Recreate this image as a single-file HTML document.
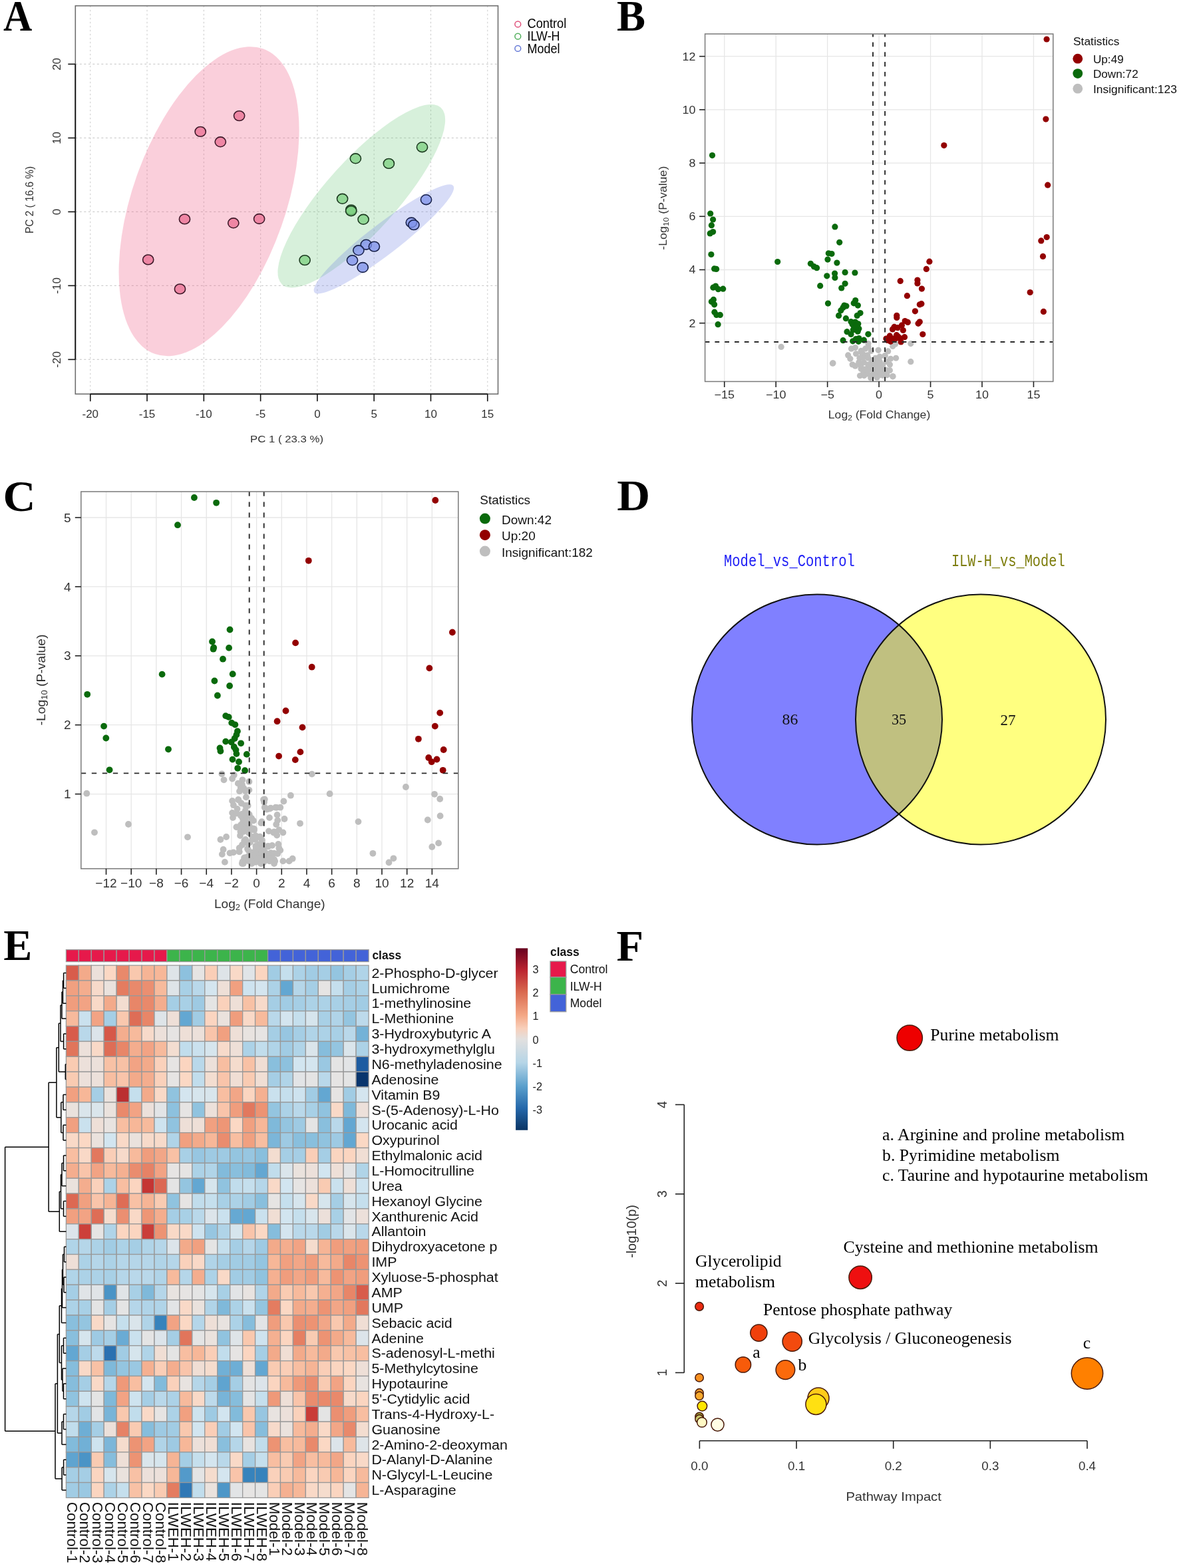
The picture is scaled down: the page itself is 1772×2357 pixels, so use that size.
<!DOCTYPE html>
<html><head><meta charset="utf-8"><title>Figure</title><style>html,body{margin:0;padding:0;background:#fff;overflow:hidden;}svg{display:block;}</style></head><body>
<svg xmlns="http://www.w3.org/2000/svg" width="1772" height="2357" viewBox="0 0 1772 2357">
<rect x="0" y="0" width="1772" height="2357" fill="#fff"/>
<text transform="translate(5,46) scale(0.93,1)" x="0" y="0" font-size="64.5" font-family="'Liberation Serif', 'Times New Roman', serif" font-weight="bold" fill="#000">A</text>
<line x1="135.76" y1="8.7" x2="135.76" y2="592.3" stroke="#cfcfcf" stroke-width="1.1" stroke-dasharray="2.5 3.5"/>
<line x1="221.04" y1="8.7" x2="221.04" y2="592.3" stroke="#cfcfcf" stroke-width="1.1" stroke-dasharray="2.5 3.5"/>
<line x1="306.33" y1="8.7" x2="306.33" y2="592.3" stroke="#cfcfcf" stroke-width="1.1" stroke-dasharray="2.5 3.5"/>
<line x1="391.62" y1="8.7" x2="391.62" y2="592.3" stroke="#cfcfcf" stroke-width="1.1" stroke-dasharray="2.5 3.5"/>
<line x1="476.9" y1="8.7" x2="476.9" y2="592.3" stroke="#cfcfcf" stroke-width="1.1" stroke-dasharray="2.5 3.5"/>
<line x1="562.18" y1="8.7" x2="562.18" y2="592.3" stroke="#cfcfcf" stroke-width="1.1" stroke-dasharray="2.5 3.5"/>
<line x1="647.47" y1="8.7" x2="647.47" y2="592.3" stroke="#cfcfcf" stroke-width="1.1" stroke-dasharray="2.5 3.5"/>
<line x1="732.75" y1="8.7" x2="732.75" y2="592.3" stroke="#cfcfcf" stroke-width="1.1" stroke-dasharray="2.5 3.5"/>
<line x1="113.3" y1="540.4" x2="748.5" y2="540.4" stroke="#cfcfcf" stroke-width="1.1" stroke-dasharray="3 3.5"/>
<line x1="113.3" y1="429.4" x2="748.5" y2="429.4" stroke="#cfcfcf" stroke-width="1.1" stroke-dasharray="3 3.5"/>
<line x1="113.3" y1="318.4" x2="748.5" y2="318.4" stroke="#cfcfcf" stroke-width="1.1" stroke-dasharray="3 3.5"/>
<line x1="113.3" y1="207.4" x2="748.5" y2="207.4" stroke="#cfcfcf" stroke-width="1.1" stroke-dasharray="3 3.5"/>
<line x1="113.3" y1="96.4" x2="748.5" y2="96.4" stroke="#cfcfcf" stroke-width="1.1" stroke-dasharray="3 3.5"/>
<g>
<ellipse cx="314.1" cy="302.7" rx="243.3" ry="115.1" transform="rotate(-70.5 314.1 302.7)" fill="rgb(238,95,135)" fill-opacity="0.30"/>
<ellipse cx="543.3" cy="294.7" rx="178.6" ry="53.9" transform="rotate(-48.1 543.3 294.7)" fill="rgb(110,200,125)" fill-opacity="0.28"/>
<ellipse cx="576.9" cy="359.4" rx="131.5" ry="23.0" transform="rotate(-37.5 576.9 359.4)" fill="rgb(110,130,225)" fill-opacity="0.28"/>
</g>
<ellipse cx="301.2" cy="197.9" rx="8.1" ry="7.4" fill="#ea6e92" fill-opacity="0.75" stroke="#3d1828" stroke-width="1.6"/>
<ellipse cx="331.3" cy="213.3" rx="8.1" ry="7.4" fill="#ea6e92" fill-opacity="0.75" stroke="#3d1828" stroke-width="1.6"/>
<ellipse cx="359.6" cy="174.1" rx="8.1" ry="7.4" fill="#ea6e92" fill-opacity="0.75" stroke="#3d1828" stroke-width="1.6"/>
<ellipse cx="277.5" cy="329.4" rx="8.1" ry="7.4" fill="#ea6e92" fill-opacity="0.75" stroke="#3d1828" stroke-width="1.6"/>
<ellipse cx="350.8" cy="335.3" rx="8.1" ry="7.4" fill="#ea6e92" fill-opacity="0.75" stroke="#3d1828" stroke-width="1.6"/>
<ellipse cx="389.6" cy="329" rx="8.1" ry="7.4" fill="#ea6e92" fill-opacity="0.75" stroke="#3d1828" stroke-width="1.6"/>
<ellipse cx="222.7" cy="390.4" rx="8.1" ry="7.4" fill="#ea6e92" fill-opacity="0.75" stroke="#3d1828" stroke-width="1.6"/>
<ellipse cx="270.5" cy="434.4" rx="8.1" ry="7.4" fill="#ea6e92" fill-opacity="0.75" stroke="#3d1828" stroke-width="1.6"/>
<ellipse cx="534.4" cy="238.3" rx="8.1" ry="7.4" fill="#7bd07f" fill-opacity="0.75" stroke="#1c3a20" stroke-width="1.6"/>
<ellipse cx="584.4" cy="245.9" rx="8.1" ry="7.4" fill="#7bd07f" fill-opacity="0.75" stroke="#1c3a20" stroke-width="1.6"/>
<ellipse cx="634.5" cy="221.2" rx="8.1" ry="7.4" fill="#7bd07f" fill-opacity="0.75" stroke="#1c3a20" stroke-width="1.6"/>
<ellipse cx="514.6" cy="298.8" rx="8.1" ry="7.4" fill="#7bd07f" fill-opacity="0.75" stroke="#1c3a20" stroke-width="1.6"/>
<ellipse cx="527.7" cy="315.4" rx="8.1" ry="7.4" fill="#7bd07f" fill-opacity="0.75" stroke="#1c3a20" stroke-width="1.6"/>
<ellipse cx="527.7" cy="317.2" rx="8.1" ry="7.4" fill="#7bd07f" fill-opacity="0.75" stroke="#1c3a20" stroke-width="1.6"/>
<ellipse cx="546.1" cy="329.8" rx="8.1" ry="7.4" fill="#7bd07f" fill-opacity="0.75" stroke="#1c3a20" stroke-width="1.6"/>
<ellipse cx="458.1" cy="391.1" rx="8.1" ry="7.4" fill="#7bd07f" fill-opacity="0.75" stroke="#1c3a20" stroke-width="1.6"/>
<ellipse cx="640.5" cy="300.2" rx="8.1" ry="7.4" fill="#7d92e9" fill-opacity="0.75" stroke="#18214a" stroke-width="1.6"/>
<ellipse cx="618.3" cy="334.5" rx="8.1" ry="7.4" fill="#7d92e9" fill-opacity="0.75" stroke="#18214a" stroke-width="1.6"/>
<ellipse cx="621.9" cy="338.1" rx="8.1" ry="7.4" fill="#7d92e9" fill-opacity="0.75" stroke="#18214a" stroke-width="1.6"/>
<ellipse cx="550.3" cy="367.7" rx="8.1" ry="7.4" fill="#7d92e9" fill-opacity="0.75" stroke="#18214a" stroke-width="1.6"/>
<ellipse cx="562.4" cy="370.6" rx="8.1" ry="7.4" fill="#7d92e9" fill-opacity="0.75" stroke="#18214a" stroke-width="1.6"/>
<ellipse cx="538.9" cy="376.3" rx="8.1" ry="7.4" fill="#7d92e9" fill-opacity="0.75" stroke="#18214a" stroke-width="1.6"/>
<ellipse cx="529.5" cy="391.3" rx="8.1" ry="7.4" fill="#7d92e9" fill-opacity="0.75" stroke="#18214a" stroke-width="1.6"/>
<ellipse cx="545.2" cy="402" rx="8.1" ry="7.4" fill="#7d92e9" fill-opacity="0.75" stroke="#18214a" stroke-width="1.6"/>
<rect x="113.3" y="8.7" width="635.2" height="583.6" fill="none" stroke="#6e6e6e" stroke-width="1.6"/>
<line x1="113.3" y1="96.4" x2="113.3" y2="540.4" stroke="#111" stroke-width="1.8"/>
<line x1="135.76" y1="592.3" x2="732.75" y2="592.3" stroke="#111" stroke-width="1.8"/>
<line x1="135.76" y1="592.3" x2="135.76" y2="603.3" stroke="#111" stroke-width="1.6"/>
<text x="135.76" y="627.8" font-size="17" font-family="'Liberation Sans', Arial, sans-serif" fill="#333" text-anchor="middle">-20</text>
<line x1="221.04" y1="592.3" x2="221.04" y2="603.3" stroke="#111" stroke-width="1.6"/>
<text x="221.04" y="627.8" font-size="17" font-family="'Liberation Sans', Arial, sans-serif" fill="#333" text-anchor="middle">-15</text>
<line x1="306.33" y1="592.3" x2="306.33" y2="603.3" stroke="#111" stroke-width="1.6"/>
<text x="306.33" y="627.8" font-size="17" font-family="'Liberation Sans', Arial, sans-serif" fill="#333" text-anchor="middle">-10</text>
<line x1="391.62" y1="592.3" x2="391.62" y2="603.3" stroke="#111" stroke-width="1.6"/>
<text x="391.62" y="627.8" font-size="17" font-family="'Liberation Sans', Arial, sans-serif" fill="#333" text-anchor="middle">-5</text>
<line x1="476.9" y1="592.3" x2="476.9" y2="603.3" stroke="#111" stroke-width="1.6"/>
<text x="476.9" y="627.8" font-size="17" font-family="'Liberation Sans', Arial, sans-serif" fill="#333" text-anchor="middle">0</text>
<line x1="562.18" y1="592.3" x2="562.18" y2="603.3" stroke="#111" stroke-width="1.6"/>
<text x="562.18" y="627.8" font-size="17" font-family="'Liberation Sans', Arial, sans-serif" fill="#333" text-anchor="middle">5</text>
<line x1="647.47" y1="592.3" x2="647.47" y2="603.3" stroke="#111" stroke-width="1.6"/>
<text x="647.47" y="627.8" font-size="17" font-family="'Liberation Sans', Arial, sans-serif" fill="#333" text-anchor="middle">10</text>
<line x1="732.75" y1="592.3" x2="732.75" y2="603.3" stroke="#111" stroke-width="1.6"/>
<text x="732.75" y="627.8" font-size="17" font-family="'Liberation Sans', Arial, sans-serif" fill="#333" text-anchor="middle">15</text>
<line x1="102.3" y1="540.4" x2="113.3" y2="540.4" stroke="#111" stroke-width="1.6"/>
<text transform="translate(91.2,540.4) rotate(-90)" x="0" y="0" font-size="17" font-family="'Liberation Sans', Arial, sans-serif" fill="#333" text-anchor="middle">-20</text>
<line x1="102.3" y1="429.4" x2="113.3" y2="429.4" stroke="#111" stroke-width="1.6"/>
<text transform="translate(91.2,429.4) rotate(-90)" x="0" y="0" font-size="17" font-family="'Liberation Sans', Arial, sans-serif" fill="#333" text-anchor="middle">-10</text>
<line x1="102.3" y1="318.4" x2="113.3" y2="318.4" stroke="#111" stroke-width="1.6"/>
<text transform="translate(91.2,318.4) rotate(-90)" x="0" y="0" font-size="17" font-family="'Liberation Sans', Arial, sans-serif" fill="#333" text-anchor="middle">0</text>
<line x1="102.3" y1="207.4" x2="113.3" y2="207.4" stroke="#111" stroke-width="1.6"/>
<text transform="translate(91.2,207.4) rotate(-90)" x="0" y="0" font-size="17" font-family="'Liberation Sans', Arial, sans-serif" fill="#333" text-anchor="middle">10</text>
<line x1="102.3" y1="96.4" x2="113.3" y2="96.4" stroke="#111" stroke-width="1.6"/>
<text transform="translate(91.2,96.4) rotate(-90)" x="0" y="0" font-size="17" font-family="'Liberation Sans', Arial, sans-serif" fill="#333" text-anchor="middle">20</text>
<text x="431" y="664.5" font-size="15.5" font-family="'Liberation Sans', Arial, sans-serif" fill="#333" text-anchor="middle" textLength="110" lengthAdjust="spacingAndGlyphs">PC 1 ( 23.3 %)</text>
<text transform="translate(49.6,300.4) rotate(-90)" x="0" y="0" font-size="15.8" font-family="'Liberation Sans', Arial, sans-serif" fill="#333" text-anchor="middle" textLength="101.3" lengthAdjust="spacingAndGlyphs">PC 2 ( 16.6 %)</text>
<circle cx="778.3" cy="36.4" r="4.4" fill="none" stroke="#e0507a" stroke-width="1.5"/>
<circle cx="778.3" cy="54.7" r="4.4" fill="none" stroke="#4fae5a" stroke-width="1.5"/>
<circle cx="778.3" cy="72.9" r="4.4" fill="none" stroke="#6478d6" stroke-width="1.5"/>
<text x="792.5" y="41.6" font-size="19.5" font-family="'Liberation Sans', Arial, sans-serif" fill="#000" textLength="58.7" lengthAdjust="spacingAndGlyphs">Control</text>
<text x="792.5" y="60.6" font-size="19.5" font-family="'Liberation Sans', Arial, sans-serif" fill="#000" textLength="49" lengthAdjust="spacingAndGlyphs">ILW-H</text>
<text x="792.5" y="80.2" font-size="19.5" font-family="'Liberation Sans', Arial, sans-serif" fill="#000" textLength="49" lengthAdjust="spacingAndGlyphs">Model</text>
<text transform="translate(927.3,766.9) scale(1.07,1)" x="0" y="0" font-size="64.5" font-family="'Liberation Serif', 'Times New Roman', serif" font-weight="bold" fill="#000">D</text>
<defs><clipPath id="cpL"><circle cx="1228" cy="1081.5" r="188"/></clipPath></defs>
<circle cx="1228" cy="1081.5" r="188" fill="#8080ff"/>
<circle cx="1474" cy="1081.5" r="188" fill="#ffff80"/>
<circle cx="1474" cy="1081.5" r="188" fill="#c0c080" clip-path="url(#cpL)"/>
<circle cx="1228" cy="1081.5" r="188" fill="none" stroke="#111" stroke-width="2"/>
<circle cx="1474" cy="1081.5" r="188" fill="none" stroke="#111" stroke-width="2"/>
<text transform="translate(1088,850.7) scale(1,1.245)" x="0" y="0" font-size="20.5" font-family="'Liberation Mono', monospace" fill="#1c1cf5" textLength="196.8" lengthAdjust="spacingAndGlyphs">Model_vs_Control</text>
<text transform="translate(1429.9,850.7) scale(1,1.245)" x="0" y="0" font-size="20.5" font-family="'Liberation Mono', monospace" fill="#7d7d0c" textLength="170.7" lengthAdjust="spacingAndGlyphs">ILW-H_vs_Model</text>
<text x="1175.6" y="1089" font-size="24" font-family="'Liberation Serif', 'Times New Roman', serif" fill="#111" textLength="23.8" lengthAdjust="spacingAndGlyphs">86</text>
<text x="1339.9" y="1089.3" font-size="24" font-family="'Liberation Serif', 'Times New Roman', serif" fill="#111" textLength="22.2" lengthAdjust="spacingAndGlyphs">35</text>
<text x="1503.4" y="1089.5" font-size="24" font-family="'Liberation Serif', 'Times New Roman', serif" fill="#111" textLength="23" lengthAdjust="spacingAndGlyphs">27</text>
<text transform="translate(927,45.5) scale(1.0,1)" x="0" y="0" font-size="64.5" font-family="'Liberation Serif', 'Times New Roman', serif" font-weight="bold" fill="#000">B</text>
<line x1="1088.75" y1="51" x2="1088.75" y2="573.5" stroke="#e6e6e6" stroke-width="1.3"/>
<line x1="1166.2" y1="51" x2="1166.2" y2="573.5" stroke="#e6e6e6" stroke-width="1.3"/>
<line x1="1243.65" y1="51" x2="1243.65" y2="573.5" stroke="#e6e6e6" stroke-width="1.3"/>
<line x1="1321.1" y1="51" x2="1321.1" y2="573.5" stroke="#e6e6e6" stroke-width="1.3"/>
<line x1="1398.55" y1="51" x2="1398.55" y2="573.5" stroke="#e6e6e6" stroke-width="1.3"/>
<line x1="1476" y1="51" x2="1476" y2="573.5" stroke="#e6e6e6" stroke-width="1.3"/>
<line x1="1553.45" y1="51" x2="1553.45" y2="573.5" stroke="#e6e6e6" stroke-width="1.3"/>
<line x1="1059.6" y1="485.7" x2="1582.8" y2="485.7" stroke="#e6e6e6" stroke-width="1.3"/>
<line x1="1059.6" y1="405.5" x2="1582.8" y2="405.5" stroke="#e6e6e6" stroke-width="1.3"/>
<line x1="1059.6" y1="325.3" x2="1582.8" y2="325.3" stroke="#e6e6e6" stroke-width="1.3"/>
<line x1="1059.6" y1="245.1" x2="1582.8" y2="245.1" stroke="#e6e6e6" stroke-width="1.3"/>
<line x1="1059.6" y1="164.9" x2="1582.8" y2="164.9" stroke="#e6e6e6" stroke-width="1.3"/>
<line x1="1059.6" y1="84.7" x2="1582.8" y2="84.7" stroke="#e6e6e6" stroke-width="1.3"/>
<g fill="#bebebe">
<circle cx="1304.94" cy="516.59" r="4.6"/>
<circle cx="1279.51" cy="524.17" r="4.6"/>
<circle cx="1285.46" cy="522.54" r="4.6"/>
<circle cx="1320.1" cy="526.33" r="4.6"/>
<circle cx="1334.71" cy="527.95" r="4.6"/>
<circle cx="1341.74" cy="520.38" r="4.6"/>
<circle cx="1345.53" cy="517.13" r="4.6"/>
<circle cx="1368.8" cy="516.59" r="4.6"/>
<circle cx="1274.64" cy="533.91" r="4.6"/>
<circle cx="1346.61" cy="538.24" r="4.6"/>
<circle cx="1368.8" cy="543.65" r="4.6"/>
<circle cx="1251.91" cy="545.81" r="4.6"/>
<circle cx="1292.49" cy="564.75" r="4.6"/>
<circle cx="1341.74" cy="565.84" r="4.6"/>
<circle cx="1281.13" cy="547.98" r="4.6"/>
<circle cx="1285.46" cy="550.14" r="4.6"/>
<circle cx="1294.12" cy="554.47" r="4.6"/>
<circle cx="1300.61" cy="559.88" r="4.6"/>
<circle cx="1310.35" cy="565.3" r="4.6"/>
<circle cx="1317.93" cy="567.46" r="4.6"/>
<circle cx="1326.59" cy="564.21" r="4.6"/>
<circle cx="1333.08" cy="563.67" r="4.6"/>
<circle cx="1337.41" cy="556.64" r="4.6"/>
<circle cx="1337.41" cy="547.98" r="4.6"/>
<circle cx="1338.5" cy="539.32" r="4.6"/>
<circle cx="1329.84" cy="534.99" r="4.6"/>
<circle cx="1322.26" cy="536.07" r="4.6"/>
<circle cx="1315.77" cy="538.24" r="4.6"/>
<circle cx="1310.35" cy="543.65" r="4.6"/>
<circle cx="1304.94" cy="549.06" r="4.6"/>
<circle cx="1298.45" cy="544.73" r="4.6"/>
<circle cx="1291.95" cy="538.24" r="4.6"/>
<circle cx="1286.54" cy="531.74" r="4.6"/>
<circle cx="1294.12" cy="527.41" r="4.6"/>
<circle cx="1300.61" cy="524.17" r="4.6"/>
<circle cx="1304.94" cy="520.92" r="4.6"/>
<circle cx="1309.27" cy="527.41" r="4.6"/>
<circle cx="1303.86" cy="533.91" r="4.6"/>
<circle cx="1297.37" cy="532.82" r="4.6"/>
<circle cx="1315.77" cy="549.06" r="4.6"/>
<circle cx="1322.26" cy="543.65" r="4.6"/>
<circle cx="1326.59" cy="549.06" r="4.6"/>
<circle cx="1324.42" cy="557.72" r="4.6"/>
<circle cx="1315.77" cy="557.72" r="4.6"/>
<circle cx="1309.27" cy="554.47" r="4.6"/>
<circle cx="1332" cy="543.65" r="4.6"/>
<circle cx="1304.94" cy="538.24" r="4.6"/>
<circle cx="1277.88" cy="539.32" r="4.6"/>
<circle cx="1290.87" cy="544.73" r="4.6"/>
<circle cx="1174.1" cy="521.4" r="4.6"/>
<circle cx="1251.5" cy="546.2" r="4.6"/>
<circle cx="1342" cy="565.8" r="4.6"/>
<circle cx="1313.19" cy="557.6" r="4.6"/>
<circle cx="1313.51" cy="550.16" r="4.6"/>
<circle cx="1305.77" cy="551.08" r="4.6"/>
<circle cx="1328.23" cy="556.82" r="4.6"/>
<circle cx="1327.41" cy="555.24" r="4.6"/>
<circle cx="1320.34" cy="554.67" r="4.6"/>
<circle cx="1297.67" cy="560.7" r="4.6"/>
<circle cx="1321.57" cy="557.49" r="4.6"/>
<circle cx="1297.39" cy="537.31" r="4.6"/>
<circle cx="1306.21" cy="548.79" r="4.6"/>
<circle cx="1319.36" cy="552.59" r="4.6"/>
<circle cx="1321.73" cy="547.22" r="4.6"/>
<circle cx="1319.4" cy="556.55" r="4.6"/>
<circle cx="1308.73" cy="568" r="4.6"/>
<circle cx="1322.12" cy="563.77" r="4.6"/>
<circle cx="1309.18" cy="546.34" r="4.6"/>
<circle cx="1312.22" cy="552.04" r="4.6"/>
<circle cx="1322.95" cy="555.24" r="4.6"/>
<circle cx="1311.08" cy="544.39" r="4.6"/>
<circle cx="1310.27" cy="563.99" r="4.6"/>
<circle cx="1307.11" cy="555.2" r="4.6"/>
<circle cx="1320.69" cy="539.59" r="4.6"/>
<circle cx="1316.53" cy="564.76" r="4.6"/>
<circle cx="1293.84" cy="550.11" r="4.6"/>
<circle cx="1314.83" cy="545.64" r="4.6"/>
<circle cx="1321.47" cy="552.44" r="4.6"/>
<circle cx="1299.89" cy="560.45" r="4.6"/>
<circle cx="1323.36" cy="561.51" r="4.6"/>
<circle cx="1331.85" cy="556.26" r="4.6"/>
<circle cx="1317.31" cy="541.31" r="4.6"/>
<circle cx="1322.77" cy="547.49" r="4.6"/>
<circle cx="1311.02" cy="541.62" r="4.6"/>
<circle cx="1305.36" cy="548.22" r="4.6"/>
<circle cx="1330.18" cy="534.71" r="4.6"/>
<circle cx="1299.97" cy="555.15" r="4.6"/>
<circle cx="1331.88" cy="558.21" r="4.6"/>
<circle cx="1295.1" cy="530.34" r="4.6"/>
<circle cx="1319.93" cy="546.37" r="4.6"/>
<circle cx="1303.68" cy="561.8" r="4.6"/>
<circle cx="1328.12" cy="554.42" r="4.6"/>
<circle cx="1318.7" cy="556.91" r="4.6"/>
<circle cx="1333.53" cy="558.57" r="4.6"/>
<circle cx="1321.71" cy="557.93" r="4.6"/>
<circle cx="1298.75" cy="564.54" r="4.6"/>
<circle cx="1326.51" cy="557.77" r="4.6"/>
</g>
<g fill="#0a6a0c">
<circle cx="1070.5" cy="233.6" r="4.6"/>
<circle cx="1067.7" cy="321" r="4.6"/>
<circle cx="1071.6" cy="330" r="4.6"/>
<circle cx="1069.4" cy="338.7" r="4.6"/>
<circle cx="1071.6" cy="348.5" r="4.6"/>
<circle cx="1067.2" cy="350.9" r="4.6"/>
<circle cx="1068.9" cy="382.5" r="4.6"/>
<circle cx="1073.6" cy="403.9" r="4.6"/>
<circle cx="1076.6" cy="404.4" r="4.6"/>
<circle cx="1168.7" cy="393.5" r="4.6"/>
<circle cx="1218.4" cy="396.3" r="4.6"/>
<circle cx="1223.4" cy="400.7" r="4.6"/>
<circle cx="1227.6" cy="402.7" r="4.6"/>
<circle cx="1245.3" cy="380.8" r="4.6"/>
<circle cx="1250" cy="381.5" r="4.6"/>
<circle cx="1244" cy="390.1" r="4.6"/>
<circle cx="1257.9" cy="395.1" r="4.6"/>
<circle cx="1254.9" cy="340.9" r="4.6"/>
<circle cx="1261.7" cy="364.3" r="4.6"/>
<circle cx="1254.6" cy="411.1" r="4.6"/>
<circle cx="1254.9" cy="417.4" r="4.6"/>
<circle cx="1242.8" cy="414.8" r="4.6"/>
<circle cx="1270.1" cy="409.4" r="4.6"/>
<circle cx="1284.9" cy="410" r="4.6"/>
<circle cx="1232.7" cy="429.7" r="4.6"/>
<circle cx="1270.1" cy="426.3" r="4.6"/>
<circle cx="1264.7" cy="433" r="4.6"/>
<circle cx="1071.9" cy="432.2" r="4.6"/>
<circle cx="1075.6" cy="430" r="4.6"/>
<circle cx="1079.5" cy="434.7" r="4.6"/>
<circle cx="1086.7" cy="434.2" r="4.6"/>
<circle cx="1072.4" cy="450.4" r="4.6"/>
<circle cx="1069.4" cy="453.6" r="4.6"/>
<circle cx="1073.6" cy="457.8" r="4.6"/>
<circle cx="1073.9" cy="469.2" r="4.6"/>
<circle cx="1076.9" cy="473.4" r="4.6"/>
<circle cx="1082.3" cy="473.4" r="4.6"/>
<circle cx="1079.1" cy="487.7" r="4.6"/>
<circle cx="1244.5" cy="456.1" r="4.6"/>
<circle cx="1285.7" cy="451.5" r="4.6"/>
<circle cx="1283.2" cy="455.8" r="4.6"/>
<circle cx="1289.4" cy="459.1" r="4.6"/>
<circle cx="1268.9" cy="459.1" r="4.6"/>
<circle cx="1271.9" cy="460" r="4.6"/>
<circle cx="1263.8" cy="466.7" r="4.6"/>
<circle cx="1267" cy="462.5" r="4.6"/>
<circle cx="1260.6" cy="474.4" r="4.6"/>
<circle cx="1293" cy="470.6" r="4.6"/>
<circle cx="1288.2" cy="474.4" r="4.6"/>
<circle cx="1271.4" cy="478.7" r="4.6"/>
<circle cx="1279" cy="483.6" r="4.6"/>
<circle cx="1285.5" cy="484.1" r="4.6"/>
<circle cx="1289.8" cy="486.8" r="4.6"/>
<circle cx="1283.3" cy="490.6" r="4.6"/>
<circle cx="1290.9" cy="493.9" r="4.6"/>
<circle cx="1289.2" cy="498.2" r="4.6"/>
<circle cx="1282.2" cy="496" r="4.6"/>
<circle cx="1281.1" cy="487.4" r="4.6"/>
<circle cx="1286.5" cy="490.6" r="4.6"/>
<circle cx="1273" cy="498.7" r="4.6"/>
<circle cx="1279" cy="502.5" r="4.6"/>
<circle cx="1304.9" cy="502.3" r="4.6"/>
<circle cx="1267.1" cy="511.7" r="4.6"/>
<circle cx="1281.7" cy="512.8" r="4.6"/>
<circle cx="1286.5" cy="509.6" r="4.6"/>
<circle cx="1290.9" cy="508.5" r="4.6"/>
<circle cx="1290.3" cy="513.3" r="4.6"/>
<circle cx="1298.4" cy="511.2" r="4.6"/>
</g>
<g fill="#930000">
<circle cx="1573.1" cy="59" r="4.6"/>
<circle cx="1571.9" cy="179.1" r="4.6"/>
<circle cx="1418.8" cy="218.6" r="4.6"/>
<circle cx="1574.7" cy="278.2" r="4.6"/>
<circle cx="1573.2" cy="356.5" r="4.6"/>
<circle cx="1564.8" cy="361.9" r="4.6"/>
<circle cx="1567.5" cy="385.4" r="4.6"/>
<circle cx="1548.2" cy="439.5" r="4.6"/>
<circle cx="1568.4" cy="468.4" r="4.6"/>
<circle cx="1396.9" cy="393.2" r="4.6"/>
<circle cx="1392.3" cy="404.4" r="4.6"/>
<circle cx="1353.2" cy="422.4" r="4.6"/>
<circle cx="1378.9" cy="421.1" r="4.6"/>
<circle cx="1378.9" cy="425.9" r="4.6"/>
<circle cx="1385.4" cy="434.1" r="4.6"/>
<circle cx="1363.4" cy="444.7" r="4.6"/>
<circle cx="1382.3" cy="457.8" r="4.6"/>
<circle cx="1384.9" cy="456.7" r="4.6"/>
<circle cx="1375.4" cy="467.8" r="4.6"/>
<circle cx="1347.8" cy="474.3" r="4.6"/>
<circle cx="1347.8" cy="477.5" r="4.6"/>
<circle cx="1360.2" cy="482.5" r="4.6"/>
<circle cx="1364.3" cy="484.4" r="4.6"/>
<circle cx="1380.1" cy="486.3" r="4.6"/>
<circle cx="1382.3" cy="483.8" r="4.6"/>
<circle cx="1344.1" cy="491.4" r="4.6"/>
<circle cx="1341.5" cy="494.9" r="4.6"/>
<circle cx="1349.1" cy="492.7" r="4.6"/>
<circle cx="1355.4" cy="488.9" r="4.6"/>
<circle cx="1357.3" cy="496.5" r="4.6"/>
<circle cx="1386.8" cy="502.5" r="4.6"/>
<circle cx="1331.9" cy="509.1" r="4.6"/>
<circle cx="1337.3" cy="504.9" r="4.6"/>
<circle cx="1338.5" cy="513.3" r="4.6"/>
<circle cx="1347.5" cy="503.7" r="4.6"/>
<circle cx="1349.9" cy="506.1" r="4.6"/>
<circle cx="1352.9" cy="508.5" r="4.6"/>
<circle cx="1354.1" cy="513.9" r="4.6"/>
<circle cx="1359.5" cy="506.7" r="4.6"/>
<circle cx="1346.9" cy="508.5" r="4.6"/>
<circle cx="1342.1" cy="509.1" r="4.6"/>
<circle cx="1333.7" cy="511.5" r="4.6"/>
</g>
<g stroke="#2a2a2a" stroke-width="1.9" stroke-dasharray="6.8 8">
<line x1="1312" y1="573.5" x2="1312" y2="51" stroke="#2a2a2a" stroke-width="1.9"/>
<line x1="1330.1" y1="573.5" x2="1330.1" y2="51" stroke="#2a2a2a" stroke-width="1.9"/>
<line x1="1059.6" y1="514" x2="1582.8" y2="514" stroke="#2a2a2a" stroke-width="1.9"/>
</g>
<rect x="1059.6" y="51.0" width="523.2" height="522.5" fill="none" stroke="#7a7a7a" stroke-width="1.5"/>
<line x1="1088.75" y1="573.5" x2="1088.75" y2="582" stroke="#222" stroke-width="1.6"/>
<text transform="translate(1088.75,598.8) scale(1.1,1)" x="0" y="0" font-size="16.3" font-family="'Liberation Sans', Arial, sans-serif" fill="#333" text-anchor="middle">−15</text>
<line x1="1166.2" y1="573.5" x2="1166.2" y2="582" stroke="#222" stroke-width="1.6"/>
<text transform="translate(1166.2,598.8) scale(1.1,1)" x="0" y="0" font-size="16.3" font-family="'Liberation Sans', Arial, sans-serif" fill="#333" text-anchor="middle">−10</text>
<line x1="1243.65" y1="573.5" x2="1243.65" y2="582" stroke="#222" stroke-width="1.6"/>
<text transform="translate(1243.65,598.8) scale(1.1,1)" x="0" y="0" font-size="16.3" font-family="'Liberation Sans', Arial, sans-serif" fill="#333" text-anchor="middle">−5</text>
<line x1="1321.1" y1="573.5" x2="1321.1" y2="582" stroke="#222" stroke-width="1.6"/>
<text transform="translate(1321.1,598.8) scale(1.1,1)" x="0" y="0" font-size="16.3" font-family="'Liberation Sans', Arial, sans-serif" fill="#333" text-anchor="middle">0</text>
<line x1="1398.55" y1="573.5" x2="1398.55" y2="582" stroke="#222" stroke-width="1.6"/>
<text transform="translate(1398.55,598.8) scale(1.1,1)" x="0" y="0" font-size="16.3" font-family="'Liberation Sans', Arial, sans-serif" fill="#333" text-anchor="middle">5</text>
<line x1="1476" y1="573.5" x2="1476" y2="582" stroke="#222" stroke-width="1.6"/>
<text transform="translate(1476,598.8) scale(1.1,1)" x="0" y="0" font-size="16.3" font-family="'Liberation Sans', Arial, sans-serif" fill="#333" text-anchor="middle">10</text>
<line x1="1553.45" y1="573.5" x2="1553.45" y2="582" stroke="#222" stroke-width="1.6"/>
<text transform="translate(1553.45,598.8) scale(1.1,1)" x="0" y="0" font-size="16.3" font-family="'Liberation Sans', Arial, sans-serif" fill="#333" text-anchor="middle">15</text>
<line x1="1051.1" y1="485.7" x2="1059.6" y2="485.7" stroke="#222" stroke-width="1.6"/>
<text transform="translate(1045.5,491.5) scale(1.1,1)" x="0" y="0" font-size="16.3" font-family="'Liberation Sans', Arial, sans-serif" fill="#333" text-anchor="end">2</text>
<line x1="1051.1" y1="405.5" x2="1059.6" y2="405.5" stroke="#222" stroke-width="1.6"/>
<text transform="translate(1045.5,411.3) scale(1.1,1)" x="0" y="0" font-size="16.3" font-family="'Liberation Sans', Arial, sans-serif" fill="#333" text-anchor="end">4</text>
<line x1="1051.1" y1="325.3" x2="1059.6" y2="325.3" stroke="#222" stroke-width="1.6"/>
<text transform="translate(1045.5,331.1) scale(1.1,1)" x="0" y="0" font-size="16.3" font-family="'Liberation Sans', Arial, sans-serif" fill="#333" text-anchor="end">6</text>
<line x1="1051.1" y1="245.1" x2="1059.6" y2="245.1" stroke="#222" stroke-width="1.6"/>
<text transform="translate(1045.5,250.9) scale(1.1,1)" x="0" y="0" font-size="16.3" font-family="'Liberation Sans', Arial, sans-serif" fill="#333" text-anchor="end">8</text>
<line x1="1051.1" y1="164.9" x2="1059.6" y2="164.9" stroke="#222" stroke-width="1.6"/>
<text transform="translate(1045.5,170.7) scale(1.1,1)" x="0" y="0" font-size="16.3" font-family="'Liberation Sans', Arial, sans-serif" fill="#333" text-anchor="end">10</text>
<line x1="1051.1" y1="84.7" x2="1059.6" y2="84.7" stroke="#222" stroke-width="1.6"/>
<text transform="translate(1045.5,90.5) scale(1.1,1)" x="0" y="0" font-size="16.3" font-family="'Liberation Sans', Arial, sans-serif" fill="#333" text-anchor="end">12</text>
<text x="1244.8" y="629.1" font-size="16.3" font-family="'Liberation Sans', Arial, sans-serif" fill="#333" textLength="153.5" lengthAdjust="spacingAndGlyphs">Log<tspan font-size="11" dy="3">2</tspan><tspan dy="-3"> (Fold Change)</tspan></text>
<text transform="translate(1001.6,312.7) rotate(-90)" x="0" y="0" font-size="16.3" font-family="'Liberation Sans', Arial, sans-serif" fill="#333" text-anchor="middle" textLength="126" lengthAdjust="spacingAndGlyphs">-Log<tspan font-size="11" dy="3">10</tspan><tspan dy="-3"> (P-value)</tspan></text>
<text x="1613" y="67.9" font-size="16.8" font-family="'Liberation Sans', Arial, sans-serif" fill="#111" textLength="69.5" lengthAdjust="spacingAndGlyphs">Statistics</text>
<circle cx="1619.8" cy="88.2" r="7.4" fill="#930000"/>
<circle cx="1619.8" cy="110.6" r="7.4" fill="#0a6a0c"/>
<circle cx="1619.8" cy="133.2" r="7.4" fill="#bebebe"/>
<text x="1642.9" y="94.7" font-size="17.2" font-family="'Liberation Sans', Arial, sans-serif" fill="#111">Up:49</text>
<text x="1642.9" y="117.1" font-size="17.2" font-family="'Liberation Sans', Arial, sans-serif" fill="#111">Down:72</text>
<text x="1642.9" y="139.7" font-size="17.2" font-family="'Liberation Sans', Arial, sans-serif" fill="#111" textLength="126" lengthAdjust="spacingAndGlyphs">Insignificant:123</text>
<text transform="translate(4.4,767.5) scale(1.05,1)" x="0" y="0" font-size="64.5" font-family="'Liberation Serif', 'Times New Roman', serif" font-weight="bold" fill="#000">C</text>
<line x1="159.52" y1="739" x2="159.52" y2="1305.8" stroke="#e6e6e6" stroke-width="1.3"/>
<line x1="197.2" y1="739" x2="197.2" y2="1305.8" stroke="#e6e6e6" stroke-width="1.3"/>
<line x1="234.88" y1="739" x2="234.88" y2="1305.8" stroke="#e6e6e6" stroke-width="1.3"/>
<line x1="272.56" y1="739" x2="272.56" y2="1305.8" stroke="#e6e6e6" stroke-width="1.3"/>
<line x1="310.24" y1="739" x2="310.24" y2="1305.8" stroke="#e6e6e6" stroke-width="1.3"/>
<line x1="347.92" y1="739" x2="347.92" y2="1305.8" stroke="#e6e6e6" stroke-width="1.3"/>
<line x1="385.6" y1="739" x2="385.6" y2="1305.8" stroke="#e6e6e6" stroke-width="1.3"/>
<line x1="423.28" y1="739" x2="423.28" y2="1305.8" stroke="#e6e6e6" stroke-width="1.3"/>
<line x1="460.96" y1="739" x2="460.96" y2="1305.8" stroke="#e6e6e6" stroke-width="1.3"/>
<line x1="498.64" y1="739" x2="498.64" y2="1305.8" stroke="#e6e6e6" stroke-width="1.3"/>
<line x1="536.32" y1="739" x2="536.32" y2="1305.8" stroke="#e6e6e6" stroke-width="1.3"/>
<line x1="574" y1="739" x2="574" y2="1305.8" stroke="#e6e6e6" stroke-width="1.3"/>
<line x1="611.68" y1="739" x2="611.68" y2="1305.8" stroke="#e6e6e6" stroke-width="1.3"/>
<line x1="649.36" y1="739" x2="649.36" y2="1305.8" stroke="#e6e6e6" stroke-width="1.3"/>
<line x1="121.8" y1="1193.6" x2="688.8" y2="1193.6" stroke="#e6e6e6" stroke-width="1.3"/>
<line x1="121.8" y1="1089.7" x2="688.8" y2="1089.7" stroke="#e6e6e6" stroke-width="1.3"/>
<line x1="121.8" y1="985.8" x2="688.8" y2="985.8" stroke="#e6e6e6" stroke-width="1.3"/>
<line x1="121.8" y1="881.9" x2="688.8" y2="881.9" stroke="#e6e6e6" stroke-width="1.3"/>
<line x1="121.8" y1="778" x2="688.8" y2="778" stroke="#e6e6e6" stroke-width="1.3"/>
<g fill="#bebebe">
<circle cx="130.3" cy="1192.7" r="4.9"/>
<circle cx="142" cy="1251.3" r="4.9"/>
<circle cx="193" cy="1239" r="4.9"/>
<circle cx="282" cy="1258.3" r="4.9"/>
<circle cx="468.8" cy="1163.6" r="4.9"/>
<circle cx="495.6" cy="1193.2" r="4.9"/>
<circle cx="609.9" cy="1183" r="4.9"/>
<circle cx="653" cy="1193.8" r="4.9"/>
<circle cx="661.2" cy="1201" r="4.9"/>
<circle cx="661.6" cy="1226.5" r="4.9"/>
<circle cx="642.8" cy="1232.5" r="4.9"/>
<circle cx="538.5" cy="1235.1" r="4.9"/>
<circle cx="451" cy="1237.8" r="4.9"/>
<circle cx="436.9" cy="1195.7" r="4.9"/>
<circle cx="426.4" cy="1204.5" r="4.9"/>
<circle cx="560.4" cy="1282.8" r="4.9"/>
<circle cx="591.4" cy="1290.3" r="4.9"/>
<circle cx="584.5" cy="1296.5" r="4.9"/>
<circle cx="649.3" cy="1273" r="4.9"/>
<circle cx="659.1" cy="1267.4" r="4.9"/>
<circle cx="333.4" cy="1163.3" r="4.9"/>
<circle cx="336.5" cy="1172.3" r="4.9"/>
<circle cx="349.1" cy="1170.5" r="4.9"/>
<circle cx="351.8" cy="1165" r="4.9"/>
<circle cx="364.4" cy="1172.3" r="4.9"/>
<circle cx="374.4" cy="1175" r="4.9"/>
<circle cx="360" cy="1178.6" r="4.9"/>
<circle cx="361.7" cy="1184" r="4.9"/>
<circle cx="360" cy="1189.4" r="4.9"/>
<circle cx="369" cy="1189.4" r="4.9"/>
<circle cx="374.4" cy="1187.6" r="4.9"/>
<circle cx="369.9" cy="1198.4" r="4.9"/>
<circle cx="349.1" cy="1203.9" r="4.9"/>
<circle cx="350.9" cy="1210.2" r="4.9"/>
<circle cx="358.1" cy="1202" r="4.9"/>
<circle cx="362.7" cy="1207.5" r="4.9"/>
<circle cx="369" cy="1211" r="4.9"/>
<circle cx="372.6" cy="1211" r="4.9"/>
<circle cx="349.1" cy="1221.9" r="4.9"/>
<circle cx="350" cy="1229.1" r="4.9"/>
<circle cx="363.6" cy="1223.7" r="4.9"/>
<circle cx="370.8" cy="1223.7" r="4.9"/>
<circle cx="378" cy="1230" r="4.9"/>
<circle cx="396" cy="1202" r="4.9"/>
<circle cx="397" cy="1205.7" r="4.9"/>
<circle cx="397.8" cy="1213.8" r="4.9"/>
<circle cx="406.8" cy="1214.7" r="4.9"/>
<circle cx="415.9" cy="1213.8" r="4.9"/>
<circle cx="405" cy="1229.1" r="4.9"/>
<circle cx="392.4" cy="1237.2" r="4.9"/>
<circle cx="365.4" cy="1234.5" r="4.9"/>
<circle cx="369" cy="1241.7" r="4.9"/>
<circle cx="374.4" cy="1239.9" r="4.9"/>
<circle cx="379.8" cy="1245.4" r="4.9"/>
<circle cx="331.4" cy="1262" r="4.9"/>
<circle cx="340.1" cy="1258" r="4.9"/>
<circle cx="335.6" cy="1277" r="4.9"/>
<circle cx="333.8" cy="1284.1" r="4.9"/>
<circle cx="345.5" cy="1282.3" r="4.9"/>
<circle cx="350.9" cy="1281.4" r="4.9"/>
<circle cx="337.9" cy="1295.9" r="4.9"/>
<circle cx="397.8" cy="1201.4" r="4.9"/>
<circle cx="400.9" cy="1216.7" r="4.9"/>
<circle cx="405" cy="1215.7" r="4.9"/>
<circle cx="414.2" cy="1213.7" r="4.9"/>
<circle cx="421.3" cy="1213.7" r="4.9"/>
<circle cx="416.6" cy="1224.9" r="4.9"/>
<circle cx="417.2" cy="1233.1" r="4.9"/>
<circle cx="415.2" cy="1239.2" r="4.9"/>
<circle cx="427.5" cy="1231" r="4.9"/>
<circle cx="404" cy="1249.4" r="4.9"/>
<circle cx="411.1" cy="1251.5" r="4.9"/>
<circle cx="416.2" cy="1255.6" r="4.9"/>
<circle cx="419.3" cy="1247.4" r="4.9"/>
<circle cx="425.4" cy="1251.5" r="4.9"/>
<circle cx="409" cy="1270.9" r="4.9"/>
<circle cx="418.3" cy="1268.9" r="4.9"/>
<circle cx="419.3" cy="1275" r="4.9"/>
<circle cx="421.3" cy="1278.1" r="4.9"/>
<circle cx="407" cy="1282.2" r="4.9"/>
<circle cx="417.2" cy="1283.2" r="4.9"/>
<circle cx="425.4" cy="1294.4" r="4.9"/>
<circle cx="434.6" cy="1294.4" r="4.9"/>
<circle cx="439.7" cy="1290.7" r="4.9"/>
<circle cx="405" cy="1294.4" r="4.9"/>
<circle cx="413.2" cy="1294.4" r="4.9"/>
<circle cx="367.09" cy="1289.43" r="4.9"/>
<circle cx="395.93" cy="1285.63" r="4.9"/>
<circle cx="365.72" cy="1298" r="4.9"/>
<circle cx="389.21" cy="1269.25" r="4.9"/>
<circle cx="367.19" cy="1263.8" r="4.9"/>
<circle cx="392.18" cy="1286.73" r="4.9"/>
<circle cx="402.94" cy="1272.49" r="4.9"/>
<circle cx="381.68" cy="1292.32" r="4.9"/>
<circle cx="412" cy="1291.91" r="4.9"/>
<circle cx="372.8" cy="1268.13" r="4.9"/>
<circle cx="384.24" cy="1295.93" r="4.9"/>
<circle cx="378.52" cy="1298" r="4.9"/>
<circle cx="386.55" cy="1280.61" r="4.9"/>
<circle cx="397.26" cy="1294.13" r="4.9"/>
<circle cx="359.73" cy="1280.35" r="4.9"/>
<circle cx="364.54" cy="1295.2" r="4.9"/>
<circle cx="363.84" cy="1298" r="4.9"/>
<circle cx="372.88" cy="1294.01" r="4.9"/>
<circle cx="412" cy="1298" r="4.9"/>
<circle cx="393.95" cy="1262.95" r="4.9"/>
<circle cx="379.26" cy="1281.45" r="4.9"/>
<circle cx="381.8" cy="1289.63" r="4.9"/>
<circle cx="384.34" cy="1271.83" r="4.9"/>
<circle cx="390.33" cy="1277.26" r="4.9"/>
<circle cx="407.33" cy="1285.85" r="4.9"/>
<circle cx="391.92" cy="1298" r="4.9"/>
<circle cx="395.38" cy="1283.14" r="4.9"/>
<circle cx="395.99" cy="1296.53" r="4.9"/>
<circle cx="399.42" cy="1282.52" r="4.9"/>
<circle cx="384.84" cy="1278.15" r="4.9"/>
<circle cx="392.98" cy="1286.89" r="4.9"/>
<circle cx="404.34" cy="1289.44" r="4.9"/>
<circle cx="390.21" cy="1285.78" r="4.9"/>
<circle cx="386.68" cy="1294.16" r="4.9"/>
<circle cx="385.37" cy="1283.24" r="4.9"/>
<circle cx="369.81" cy="1288.9" r="4.9"/>
<circle cx="390.68" cy="1257.69" r="4.9"/>
<circle cx="395.7" cy="1270.51" r="4.9"/>
<circle cx="393.1" cy="1280.44" r="4.9"/>
<circle cx="385.38" cy="1278.4" r="4.9"/>
<circle cx="406.06" cy="1290.83" r="4.9"/>
<circle cx="373.98" cy="1245.12" r="4.9"/>
<circle cx="386.18" cy="1272.81" r="4.9"/>
<circle cx="394.36" cy="1268.2" r="4.9"/>
<circle cx="412" cy="1250.28" r="4.9"/>
<circle cx="385.3" cy="1278.93" r="4.9"/>
<circle cx="384.65" cy="1275.24" r="4.9"/>
<circle cx="381.54" cy="1289.53" r="4.9"/>
<circle cx="397.51" cy="1280.14" r="4.9"/>
<circle cx="383.77" cy="1262.07" r="4.9"/>
<circle cx="373.11" cy="1277.8" r="4.9"/>
<circle cx="397.46" cy="1291.82" r="4.9"/>
<circle cx="359.72" cy="1274.62" r="4.9"/>
<circle cx="386.08" cy="1285.22" r="4.9"/>
<circle cx="403.13" cy="1271.88" r="4.9"/>
<circle cx="383.03" cy="1281.83" r="4.9"/>
<circle cx="380.95" cy="1233.65" r="4.9"/>
<circle cx="393.48" cy="1235.26" r="4.9"/>
<circle cx="396.06" cy="1274.31" r="4.9"/>
<circle cx="377.64" cy="1293.79" r="4.9"/>
<circle cx="412" cy="1282.71" r="4.9"/>
<circle cx="384.48" cy="1256.39" r="4.9"/>
<circle cx="381.94" cy="1247.88" r="4.9"/>
<circle cx="374.09" cy="1286.71" r="4.9"/>
<circle cx="392.37" cy="1260.12" r="4.9"/>
<circle cx="391.5" cy="1291.56" r="4.9"/>
<circle cx="359.32" cy="1280.04" r="4.9"/>
<circle cx="375.06" cy="1285.06" r="4.9"/>
<circle cx="390.62" cy="1290.61" r="4.9"/>
<circle cx="393.24" cy="1297.69" r="4.9"/>
<circle cx="363.91" cy="1179.53" r="4.9"/>
<circle cx="358.53" cy="1202.66" r="4.9"/>
<circle cx="366.44" cy="1184.87" r="4.9"/>
<circle cx="362.24" cy="1241.82" r="4.9"/>
<circle cx="374.61" cy="1224.27" r="4.9"/>
<circle cx="368.82" cy="1218.83" r="4.9"/>
<circle cx="357.81" cy="1177.63" r="4.9"/>
<circle cx="355.36" cy="1243.27" r="4.9"/>
<circle cx="369.02" cy="1247.21" r="4.9"/>
<circle cx="355.43" cy="1222.71" r="4.9"/>
<circle cx="364.64" cy="1229.79" r="4.9"/>
<circle cx="361.38" cy="1249.95" r="4.9"/>
<circle cx="356.51" cy="1215.96" r="4.9"/>
<circle cx="369.74" cy="1242.51" r="4.9"/>
<circle cx="369.74" cy="1227.78" r="4.9"/>
<circle cx="370.87" cy="1243.63" r="4.9"/>
<circle cx="362.04" cy="1226.39" r="4.9"/>
<circle cx="373.02" cy="1240.33" r="4.9"/>
<circle cx="362" cy="1240" r="4.9"/>
<circle cx="368" cy="1246" r="4.9"/>
<circle cx="374" cy="1252" r="4.9"/>
<circle cx="361" cy="1256" r="4.9"/>
<circle cx="369" cy="1262" r="4.9"/>
<circle cx="376" cy="1266" r="4.9"/>
<circle cx="364" cy="1270" r="4.9"/>
<circle cx="372" cy="1276" r="4.9"/>
<circle cx="379" cy="1258" r="4.9"/>
<circle cx="382" cy="1246" r="4.9"/>
<circle cx="366" cy="1250" r="4.9"/>
<circle cx="371" cy="1236" r="4.9"/>
</g>
<g fill="#0a6a0c">
<circle cx="291.9" cy="748" r="4.9"/>
<circle cx="325.1" cy="755.8" r="4.9"/>
<circle cx="267" cy="789.2" r="4.9"/>
<circle cx="345.5" cy="946.5" r="4.9"/>
<circle cx="319" cy="964.5" r="4.9"/>
<circle cx="321.2" cy="973.5" r="4.9"/>
<circle cx="320.6" cy="975.7" r="4.9"/>
<circle cx="344.1" cy="973.9" r="4.9"/>
<circle cx="335" cy="990.7" r="4.9"/>
<circle cx="243.6" cy="1013.6" r="4.9"/>
<circle cx="349.7" cy="1013.2" r="4.9"/>
<circle cx="322.4" cy="1023.5" r="4.9"/>
<circle cx="345.1" cy="1031" r="4.9"/>
<circle cx="326.9" cy="1045.5" r="4.9"/>
<circle cx="131.2" cy="1043.8" r="4.9"/>
<circle cx="339.2" cy="1076.1" r="4.9"/>
<circle cx="343.7" cy="1077.9" r="4.9"/>
<circle cx="348.2" cy="1086.6" r="4.9"/>
<circle cx="353.3" cy="1089.3" r="4.9"/>
<circle cx="156.1" cy="1091.6" r="4.9"/>
<circle cx="356.9" cy="1099.2" r="4.9"/>
<circle cx="355.4" cy="1104.6" r="4.9"/>
<circle cx="352.7" cy="1110" r="4.9"/>
<circle cx="159.3" cy="1109.5" r="4.9"/>
<circle cx="339.2" cy="1114.6" r="4.9"/>
<circle cx="347.7" cy="1115.5" r="4.9"/>
<circle cx="362.1" cy="1117.3" r="4.9"/>
<circle cx="253" cy="1126.3" r="4.9"/>
<circle cx="330.5" cy="1124.5" r="4.9"/>
<circle cx="331.4" cy="1129" r="4.9"/>
<circle cx="351.8" cy="1122.7" r="4.9"/>
<circle cx="354.5" cy="1127.2" r="4.9"/>
<circle cx="355.4" cy="1133.1" r="4.9"/>
<circle cx="370.8" cy="1133.9" r="4.9"/>
<circle cx="349.5" cy="1141.6" r="4.9"/>
<circle cx="359" cy="1145.2" r="4.9"/>
<circle cx="357.2" cy="1154.8" r="4.9"/>
<circle cx="164.6" cy="1157.3" r="4.9"/>
<circle cx="368.1" cy="1158.2" r="4.9"/>
</g>
<g fill="#930000">
<circle cx="654.3" cy="752" r="4.9"/>
<circle cx="463.8" cy="842.8" r="4.9"/>
<circle cx="679.9" cy="950.5" r="4.9"/>
<circle cx="444.1" cy="966.4" r="4.9"/>
<circle cx="468.7" cy="1002.7" r="4.9"/>
<circle cx="645.4" cy="1004.4" r="4.9"/>
<circle cx="429.5" cy="1068.5" r="4.9"/>
<circle cx="416.6" cy="1084.2" r="4.9"/>
<circle cx="454.5" cy="1093.4" r="4.9"/>
<circle cx="661.2" cy="1071.6" r="4.9"/>
<circle cx="653.8" cy="1091.6" r="4.9"/>
<circle cx="628.9" cy="1110.8" r="4.9"/>
<circle cx="666.7" cy="1127" r="4.9"/>
<circle cx="419.1" cy="1136.6" r="4.9"/>
<circle cx="451.4" cy="1130.4" r="4.9"/>
<circle cx="443.8" cy="1142.1" r="4.9"/>
<circle cx="644.2" cy="1139" r="4.9"/>
<circle cx="648.7" cy="1145.2" r="4.9"/>
<circle cx="656.5" cy="1141.5" r="4.9"/>
<circle cx="665.7" cy="1157.8" r="4.9"/>
</g>
<g stroke="#2a2a2a" stroke-width="1.9" stroke-dasharray="7.4 8.6">
<line x1="374.7" y1="1305.8" x2="374.7" y2="739" stroke="#2a2a2a" stroke-width="1.9"/>
<line x1="396.7" y1="1305.8" x2="396.7" y2="739" stroke="#2a2a2a" stroke-width="1.9"/>
<line x1="121.8" y1="1162.4" x2="688.8" y2="1162.4" stroke="#2a2a2a" stroke-width="1.9"/>
</g>
<rect x="121.8" y="739.0" width="567" height="566.8" fill="none" stroke="#7a7a7a" stroke-width="1.5"/>
<line x1="159.52" y1="1305.8" x2="159.52" y2="1314.8" stroke="#222" stroke-width="1.6"/>
<text transform="translate(159.52,1334.2) scale(1.02,1)" x="0" y="0" font-size="18.7" font-family="'Liberation Sans', Arial, sans-serif" fill="#333" text-anchor="middle">−12</text>
<line x1="197.2" y1="1305.8" x2="197.2" y2="1314.8" stroke="#222" stroke-width="1.6"/>
<text transform="translate(197.2,1334.2) scale(1.02,1)" x="0" y="0" font-size="18.7" font-family="'Liberation Sans', Arial, sans-serif" fill="#333" text-anchor="middle">−10</text>
<line x1="234.88" y1="1305.8" x2="234.88" y2="1314.8" stroke="#222" stroke-width="1.6"/>
<text transform="translate(234.88,1334.2) scale(1.02,1)" x="0" y="0" font-size="18.7" font-family="'Liberation Sans', Arial, sans-serif" fill="#333" text-anchor="middle">−8</text>
<line x1="272.56" y1="1305.8" x2="272.56" y2="1314.8" stroke="#222" stroke-width="1.6"/>
<text transform="translate(272.56,1334.2) scale(1.02,1)" x="0" y="0" font-size="18.7" font-family="'Liberation Sans', Arial, sans-serif" fill="#333" text-anchor="middle">−6</text>
<line x1="310.24" y1="1305.8" x2="310.24" y2="1314.8" stroke="#222" stroke-width="1.6"/>
<text transform="translate(310.24,1334.2) scale(1.02,1)" x="0" y="0" font-size="18.7" font-family="'Liberation Sans', Arial, sans-serif" fill="#333" text-anchor="middle">−4</text>
<line x1="347.92" y1="1305.8" x2="347.92" y2="1314.8" stroke="#222" stroke-width="1.6"/>
<text transform="translate(347.92,1334.2) scale(1.02,1)" x="0" y="0" font-size="18.7" font-family="'Liberation Sans', Arial, sans-serif" fill="#333" text-anchor="middle">−2</text>
<line x1="385.6" y1="1305.8" x2="385.6" y2="1314.8" stroke="#222" stroke-width="1.6"/>
<text transform="translate(385.6,1334.2) scale(1.02,1)" x="0" y="0" font-size="18.7" font-family="'Liberation Sans', Arial, sans-serif" fill="#333" text-anchor="middle">0</text>
<line x1="423.28" y1="1305.8" x2="423.28" y2="1314.8" stroke="#222" stroke-width="1.6"/>
<text transform="translate(423.28,1334.2) scale(1.02,1)" x="0" y="0" font-size="18.7" font-family="'Liberation Sans', Arial, sans-serif" fill="#333" text-anchor="middle">2</text>
<line x1="460.96" y1="1305.8" x2="460.96" y2="1314.8" stroke="#222" stroke-width="1.6"/>
<text transform="translate(460.96,1334.2) scale(1.02,1)" x="0" y="0" font-size="18.7" font-family="'Liberation Sans', Arial, sans-serif" fill="#333" text-anchor="middle">4</text>
<line x1="498.64" y1="1305.8" x2="498.64" y2="1314.8" stroke="#222" stroke-width="1.6"/>
<text transform="translate(498.64,1334.2) scale(1.02,1)" x="0" y="0" font-size="18.7" font-family="'Liberation Sans', Arial, sans-serif" fill="#333" text-anchor="middle">6</text>
<line x1="536.32" y1="1305.8" x2="536.32" y2="1314.8" stroke="#222" stroke-width="1.6"/>
<text transform="translate(536.32,1334.2) scale(1.02,1)" x="0" y="0" font-size="18.7" font-family="'Liberation Sans', Arial, sans-serif" fill="#333" text-anchor="middle">8</text>
<line x1="574" y1="1305.8" x2="574" y2="1314.8" stroke="#222" stroke-width="1.6"/>
<text transform="translate(574,1334.2) scale(1.02,1)" x="0" y="0" font-size="18.7" font-family="'Liberation Sans', Arial, sans-serif" fill="#333" text-anchor="middle">10</text>
<line x1="611.68" y1="1305.8" x2="611.68" y2="1314.8" stroke="#222" stroke-width="1.6"/>
<text transform="translate(611.68,1334.2) scale(1.02,1)" x="0" y="0" font-size="18.7" font-family="'Liberation Sans', Arial, sans-serif" fill="#333" text-anchor="middle">12</text>
<line x1="649.36" y1="1305.8" x2="649.36" y2="1314.8" stroke="#222" stroke-width="1.6"/>
<text transform="translate(649.36,1334.2) scale(1.02,1)" x="0" y="0" font-size="18.7" font-family="'Liberation Sans', Arial, sans-serif" fill="#333" text-anchor="middle">14</text>
<line x1="112.8" y1="1193.6" x2="121.8" y2="1193.6" stroke="#222" stroke-width="1.6"/>
<text transform="translate(106.6,1200.2) scale(1.02,1)" x="0" y="0" font-size="18.7" font-family="'Liberation Sans', Arial, sans-serif" fill="#333" text-anchor="end">1</text>
<line x1="112.8" y1="1089.7" x2="121.8" y2="1089.7" stroke="#222" stroke-width="1.6"/>
<text transform="translate(106.6,1096.3) scale(1.02,1)" x="0" y="0" font-size="18.7" font-family="'Liberation Sans', Arial, sans-serif" fill="#333" text-anchor="end">2</text>
<line x1="112.8" y1="985.8" x2="121.8" y2="985.8" stroke="#222" stroke-width="1.6"/>
<text transform="translate(106.6,992.4) scale(1.02,1)" x="0" y="0" font-size="18.7" font-family="'Liberation Sans', Arial, sans-serif" fill="#333" text-anchor="end">3</text>
<line x1="112.8" y1="881.9" x2="121.8" y2="881.9" stroke="#222" stroke-width="1.6"/>
<text transform="translate(106.6,888.5) scale(1.02,1)" x="0" y="0" font-size="18.7" font-family="'Liberation Sans', Arial, sans-serif" fill="#333" text-anchor="end">4</text>
<line x1="112.8" y1="778" x2="121.8" y2="778" stroke="#222" stroke-width="1.6"/>
<text transform="translate(106.6,784.6) scale(1.02,1)" x="0" y="0" font-size="18.7" font-family="'Liberation Sans', Arial, sans-serif" fill="#333" text-anchor="end">5</text>
<text x="321.9" y="1365" font-size="17.8" font-family="'Liberation Sans', Arial, sans-serif" fill="#333" textLength="166.8" lengthAdjust="spacingAndGlyphs">Log<tspan font-size="12" dy="3">2</tspan><tspan dy="-3"> (Fold Change)</tspan></text>
<text transform="translate(67.8,1022) rotate(-90)" x="0" y="0" font-size="17.8" font-family="'Liberation Sans', Arial, sans-serif" fill="#333" text-anchor="middle" textLength="137" lengthAdjust="spacingAndGlyphs">-Log<tspan font-size="12" dy="3">10</tspan><tspan dy="-3"> (P-value)</tspan></text>
<text x="721.3" y="757.6" font-size="18.5" font-family="'Liberation Sans', Arial, sans-serif" fill="#111" textLength="75.8" lengthAdjust="spacingAndGlyphs">Statistics</text>
<circle cx="728.9" cy="779.6" r="8" fill="#0a6a0c"/>
<circle cx="728.9" cy="804.2" r="8" fill="#930000"/>
<circle cx="728.9" cy="828.6" r="8" fill="#bebebe"/>
<text x="754" y="787.6" font-size="19" font-family="'Liberation Sans', Arial, sans-serif" fill="#111">Down:42</text>
<text x="754" y="811.9" font-size="19" font-family="'Liberation Sans', Arial, sans-serif" fill="#111">Up:20</text>
<text x="754" y="836.8" font-size="19" font-family="'Liberation Sans', Arial, sans-serif" fill="#111" textLength="136.8" lengthAdjust="spacingAndGlyphs">Insignificant:182</text>
<text transform="translate(5.2,1443.4) scale(1.0,1)" x="0" y="0" font-size="64.5" font-family="'Liberation Serif', 'Times New Roman', serif" font-weight="bold" fill="#000">E</text>
<rect x="99.4" y="1427.6" width="18.95" height="18" fill="#e6194b" stroke="#999" stroke-width="1.3"/>
<rect x="118.35" y="1427.6" width="18.95" height="18" fill="#e6194b" stroke="#999" stroke-width="1.3"/>
<rect x="137.29" y="1427.6" width="18.95" height="18" fill="#e6194b" stroke="#999" stroke-width="1.3"/>
<rect x="156.24" y="1427.6" width="18.95" height="18" fill="#e6194b" stroke="#999" stroke-width="1.3"/>
<rect x="175.18" y="1427.6" width="18.95" height="18" fill="#e6194b" stroke="#999" stroke-width="1.3"/>
<rect x="194.13" y="1427.6" width="18.95" height="18" fill="#e6194b" stroke="#999" stroke-width="1.3"/>
<rect x="213.08" y="1427.6" width="18.95" height="18" fill="#e6194b" stroke="#999" stroke-width="1.3"/>
<rect x="232.02" y="1427.6" width="18.95" height="18" fill="#e6194b" stroke="#999" stroke-width="1.3"/>
<rect x="250.97" y="1427.6" width="18.95" height="18" fill="#3cb44b" stroke="#999" stroke-width="1.3"/>
<rect x="269.91" y="1427.6" width="18.95" height="18" fill="#3cb44b" stroke="#999" stroke-width="1.3"/>
<rect x="288.86" y="1427.6" width="18.95" height="18" fill="#3cb44b" stroke="#999" stroke-width="1.3"/>
<rect x="307.81" y="1427.6" width="18.95" height="18" fill="#3cb44b" stroke="#999" stroke-width="1.3"/>
<rect x="326.75" y="1427.6" width="18.95" height="18" fill="#3cb44b" stroke="#999" stroke-width="1.3"/>
<rect x="345.7" y="1427.6" width="18.95" height="18" fill="#3cb44b" stroke="#999" stroke-width="1.3"/>
<rect x="364.64" y="1427.6" width="18.95" height="18" fill="#3cb44b" stroke="#999" stroke-width="1.3"/>
<rect x="383.59" y="1427.6" width="18.95" height="18" fill="#3cb44b" stroke="#999" stroke-width="1.3"/>
<rect x="402.54" y="1427.6" width="18.95" height="18" fill="#4363d8" stroke="#999" stroke-width="1.3"/>
<rect x="421.48" y="1427.6" width="18.95" height="18" fill="#4363d8" stroke="#999" stroke-width="1.3"/>
<rect x="440.43" y="1427.6" width="18.95" height="18" fill="#4363d8" stroke="#999" stroke-width="1.3"/>
<rect x="459.37" y="1427.6" width="18.95" height="18" fill="#4363d8" stroke="#999" stroke-width="1.3"/>
<rect x="478.32" y="1427.6" width="18.95" height="18" fill="#4363d8" stroke="#999" stroke-width="1.3"/>
<rect x="497.27" y="1427.6" width="18.95" height="18" fill="#4363d8" stroke="#999" stroke-width="1.3"/>
<rect x="516.21" y="1427.6" width="18.95" height="18" fill="#4363d8" stroke="#999" stroke-width="1.3"/>
<rect x="535.16" y="1427.6" width="18.95" height="18" fill="#4363d8" stroke="#999" stroke-width="1.3"/>
<text x="559.4" y="1442.4" font-size="17.5" font-family="'Liberation Sans', Arial, sans-serif" fill="#111" font-weight="bold">class</text>
<g stroke="#999" stroke-width="1.3">
<rect x="99.4" y="1451.1" width="18.95" height="22.87" fill="#d85c4b"/>
<rect x="118.35" y="1451.1" width="18.95" height="22.87" fill="#f3aa8a"/>
<rect x="137.29" y="1451.1" width="18.95" height="22.87" fill="#ece0da"/>
<rect x="156.24" y="1451.1" width="18.95" height="22.87" fill="#fbd8c4"/>
<rect x="175.18" y="1451.1" width="18.95" height="22.87" fill="#e9896b"/>
<rect x="194.13" y="1451.1" width="18.95" height="22.87" fill="#f9c8ae"/>
<rect x="213.08" y="1451.1" width="18.95" height="22.87" fill="#f6b495"/>
<rect x="232.02" y="1451.1" width="18.95" height="22.87" fill="#f7b798"/>
<rect x="250.97" y="1451.1" width="18.95" height="22.87" fill="#dee4e8"/>
<rect x="269.91" y="1451.1" width="18.95" height="22.87" fill="#8dc1de"/>
<rect x="288.86" y="1451.1" width="18.95" height="22.87" fill="#e6e4e3"/>
<rect x="307.81" y="1451.1" width="18.95" height="22.87" fill="#faceb7"/>
<rect x="326.75" y="1451.1" width="18.95" height="22.87" fill="#dee4e8"/>
<rect x="345.7" y="1451.1" width="18.95" height="22.87" fill="#f9d9c7"/>
<rect x="364.64" y="1451.1" width="18.95" height="22.87" fill="#e0e4e7"/>
<rect x="383.59" y="1451.1" width="18.95" height="22.87" fill="#fbd5c0"/>
<rect x="402.54" y="1451.1" width="18.95" height="22.87" fill="#a1cce4"/>
<rect x="421.48" y="1451.1" width="18.95" height="22.87" fill="#c5dfed"/>
<rect x="440.43" y="1451.1" width="18.95" height="22.87" fill="#acd2e7"/>
<rect x="459.37" y="1451.1" width="18.95" height="22.87" fill="#a1cce4"/>
<rect x="478.32" y="1451.1" width="18.95" height="22.87" fill="#a5cee5"/>
<rect x="497.27" y="1451.1" width="18.95" height="22.87" fill="#94c5e0"/>
<rect x="516.21" y="1451.1" width="18.95" height="22.87" fill="#a5cee5"/>
<rect x="535.16" y="1451.1" width="18.95" height="22.87" fill="#b0d4e8"/>
<rect x="99.4" y="1473.97" width="18.95" height="22.87" fill="#f1a080"/>
<rect x="118.35" y="1473.97" width="18.95" height="22.87" fill="#f4ad8e"/>
<rect x="137.29" y="1473.97" width="18.95" height="22.87" fill="#f7daca"/>
<rect x="156.24" y="1473.97" width="18.95" height="22.87" fill="#eae2dd"/>
<rect x="175.18" y="1473.97" width="18.95" height="22.87" fill="#e47c60"/>
<rect x="194.13" y="1473.97" width="18.95" height="22.87" fill="#e9896b"/>
<rect x="213.08" y="1473.97" width="18.95" height="22.87" fill="#eb8f71"/>
<rect x="232.02" y="1473.97" width="18.95" height="22.87" fill="#f7ba9c"/>
<rect x="250.97" y="1473.97" width="18.95" height="22.87" fill="#dee4e8"/>
<rect x="269.91" y="1473.97" width="18.95" height="22.87" fill="#a8d0e6"/>
<rect x="288.86" y="1473.97" width="18.95" height="22.87" fill="#b9d8ea"/>
<rect x="307.81" y="1473.97" width="18.95" height="22.87" fill="#d4e5ef"/>
<rect x="326.75" y="1473.97" width="18.95" height="22.87" fill="#eedfd7"/>
<rect x="345.7" y="1473.97" width="18.95" height="22.87" fill="#f1a080"/>
<rect x="364.64" y="1473.97" width="18.95" height="22.87" fill="#cee3ef"/>
<rect x="383.59" y="1473.97" width="18.95" height="22.87" fill="#d4e5ef"/>
<rect x="402.54" y="1473.97" width="18.95" height="22.87" fill="#acd2e7"/>
<rect x="421.48" y="1473.97" width="18.95" height="22.87" fill="#63a7d2"/>
<rect x="440.43" y="1473.97" width="18.95" height="22.87" fill="#b5d6e9"/>
<rect x="459.37" y="1473.97" width="18.95" height="22.87" fill="#a5cee5"/>
<rect x="478.32" y="1473.97" width="18.95" height="22.87" fill="#e6e4e3"/>
<rect x="497.27" y="1473.97" width="18.95" height="22.87" fill="#c5dfed"/>
<rect x="516.21" y="1473.97" width="18.95" height="22.87" fill="#a5cee5"/>
<rect x="535.16" y="1473.97" width="18.95" height="22.87" fill="#acd2e7"/>
<rect x="99.4" y="1496.83" width="18.95" height="22.87" fill="#f09d7d"/>
<rect x="118.35" y="1496.83" width="18.95" height="22.87" fill="#f2a384"/>
<rect x="137.29" y="1496.83" width="18.95" height="22.87" fill="#f9d9c7"/>
<rect x="156.24" y="1496.83" width="18.95" height="22.87" fill="#f3aa8a"/>
<rect x="175.18" y="1496.83" width="18.95" height="22.87" fill="#f3ddd0"/>
<rect x="194.13" y="1496.83" width="18.95" height="22.87" fill="#e88668"/>
<rect x="213.08" y="1496.83" width="18.95" height="22.87" fill="#e9896b"/>
<rect x="232.02" y="1496.83" width="18.95" height="22.87" fill="#f4ad8e"/>
<rect x="250.97" y="1496.83" width="18.95" height="22.87" fill="#a5cee5"/>
<rect x="269.91" y="1496.83" width="18.95" height="22.87" fill="#a8d0e6"/>
<rect x="288.86" y="1496.83" width="18.95" height="22.87" fill="#9ecae3"/>
<rect x="307.81" y="1496.83" width="18.95" height="22.87" fill="#e4e4e4"/>
<rect x="326.75" y="1496.83" width="18.95" height="22.87" fill="#fad1bb"/>
<rect x="345.7" y="1496.83" width="18.95" height="22.87" fill="#eedfd7"/>
<rect x="364.64" y="1496.83" width="18.95" height="22.87" fill="#f8c1a5"/>
<rect x="383.59" y="1496.83" width="18.95" height="22.87" fill="#f7daca"/>
<rect x="402.54" y="1496.83" width="18.95" height="22.87" fill="#a5cee5"/>
<rect x="421.48" y="1496.83" width="18.95" height="22.87" fill="#a1cce4"/>
<rect x="440.43" y="1496.83" width="18.95" height="22.87" fill="#a5cee5"/>
<rect x="459.37" y="1496.83" width="18.95" height="22.87" fill="#acd2e7"/>
<rect x="478.32" y="1496.83" width="18.95" height="22.87" fill="#acd2e7"/>
<rect x="497.27" y="1496.83" width="18.95" height="22.87" fill="#a8d0e6"/>
<rect x="516.21" y="1496.83" width="18.95" height="22.87" fill="#a5cee5"/>
<rect x="535.16" y="1496.83" width="18.95" height="22.87" fill="#a1cce4"/>
<rect x="99.4" y="1519.7" width="18.95" height="22.87" fill="#f7ba9c"/>
<rect x="118.35" y="1519.7" width="18.95" height="22.87" fill="#cae1ee"/>
<rect x="137.29" y="1519.7" width="18.95" height="22.87" fill="#f2a384"/>
<rect x="156.24" y="1519.7" width="18.95" height="22.87" fill="#a5cee5"/>
<rect x="175.18" y="1519.7" width="18.95" height="22.87" fill="#f9c8ae"/>
<rect x="194.13" y="1519.7" width="18.95" height="22.87" fill="#de6d56"/>
<rect x="213.08" y="1519.7" width="18.95" height="22.87" fill="#e88668"/>
<rect x="232.02" y="1519.7" width="18.95" height="22.87" fill="#dee4e8"/>
<rect x="250.97" y="1519.7" width="18.95" height="22.87" fill="#eedfd7"/>
<rect x="269.91" y="1519.7" width="18.95" height="22.87" fill="#63a7d2"/>
<rect x="288.86" y="1519.7" width="18.95" height="22.87" fill="#a1cce4"/>
<rect x="307.81" y="1519.7" width="18.95" height="22.87" fill="#fbd5c0"/>
<rect x="326.75" y="1519.7" width="18.95" height="22.87" fill="#eae2dd"/>
<rect x="345.7" y="1519.7" width="18.95" height="22.87" fill="#f09d7d"/>
<rect x="364.64" y="1519.7" width="18.95" height="22.87" fill="#f9d9c7"/>
<rect x="383.59" y="1519.7" width="18.95" height="22.87" fill="#f7ba9c"/>
<rect x="402.54" y="1519.7" width="18.95" height="22.87" fill="#b9d8ea"/>
<rect x="421.48" y="1519.7" width="18.95" height="22.87" fill="#d4e5ef"/>
<rect x="440.43" y="1519.7" width="18.95" height="22.87" fill="#c5dfed"/>
<rect x="459.37" y="1519.7" width="18.95" height="22.87" fill="#d6e5ed"/>
<rect x="478.32" y="1519.7" width="18.95" height="22.87" fill="#a8d0e6"/>
<rect x="497.27" y="1519.7" width="18.95" height="22.87" fill="#b0d4e8"/>
<rect x="516.21" y="1519.7" width="18.95" height="22.87" fill="#94c5e0"/>
<rect x="535.16" y="1519.7" width="18.95" height="22.87" fill="#bddaeb"/>
<rect x="99.4" y="1542.56" width="18.95" height="22.87" fill="#d85c4b"/>
<rect x="118.35" y="1542.56" width="18.95" height="22.87" fill="#b9d8ea"/>
<rect x="137.29" y="1542.56" width="18.95" height="22.87" fill="#dce4ea"/>
<rect x="156.24" y="1542.56" width="18.95" height="22.87" fill="#d65849"/>
<rect x="175.18" y="1542.56" width="18.95" height="22.87" fill="#f4ad8e"/>
<rect x="194.13" y="1542.56" width="18.95" height="22.87" fill="#f7ba9c"/>
<rect x="213.08" y="1542.56" width="18.95" height="22.87" fill="#f7daca"/>
<rect x="232.02" y="1542.56" width="18.95" height="22.87" fill="#ece0da"/>
<rect x="250.97" y="1542.56" width="18.95" height="22.87" fill="#e6e4e3"/>
<rect x="269.91" y="1542.56" width="18.95" height="22.87" fill="#eedfd7"/>
<rect x="288.86" y="1542.56" width="18.95" height="22.87" fill="#ece0da"/>
<rect x="307.81" y="1542.56" width="18.95" height="22.87" fill="#f9c4aa"/>
<rect x="326.75" y="1542.56" width="18.95" height="22.87" fill="#f1a080"/>
<rect x="345.7" y="1542.56" width="18.95" height="22.87" fill="#eedfd7"/>
<rect x="364.64" y="1542.56" width="18.95" height="22.87" fill="#e8e3e0"/>
<rect x="383.59" y="1542.56" width="18.95" height="22.87" fill="#e6e4e3"/>
<rect x="402.54" y="1542.56" width="18.95" height="22.87" fill="#a5cee5"/>
<rect x="421.48" y="1542.56" width="18.95" height="22.87" fill="#97c6e1"/>
<rect x="440.43" y="1542.56" width="18.95" height="22.87" fill="#a5cee5"/>
<rect x="459.37" y="1542.56" width="18.95" height="22.87" fill="#b0d4e8"/>
<rect x="478.32" y="1542.56" width="18.95" height="22.87" fill="#acd2e7"/>
<rect x="497.27" y="1542.56" width="18.95" height="22.87" fill="#a8d0e6"/>
<rect x="516.21" y="1542.56" width="18.95" height="22.87" fill="#b9d8ea"/>
<rect x="535.16" y="1542.56" width="18.95" height="22.87" fill="#74b2d7"/>
<rect x="99.4" y="1565.43" width="18.95" height="22.87" fill="#e1755b"/>
<rect x="118.35" y="1565.43" width="18.95" height="22.87" fill="#ece0da"/>
<rect x="137.29" y="1565.43" width="18.95" height="22.87" fill="#f9d9c7"/>
<rect x="156.24" y="1565.43" width="18.95" height="22.87" fill="#de6d56"/>
<rect x="175.18" y="1565.43" width="18.95" height="22.87" fill="#e88668"/>
<rect x="194.13" y="1565.43" width="18.95" height="22.87" fill="#f4ad8e"/>
<rect x="213.08" y="1565.43" width="18.95" height="22.87" fill="#f2a384"/>
<rect x="232.02" y="1565.43" width="18.95" height="22.87" fill="#f7ba9c"/>
<rect x="250.97" y="1565.43" width="18.95" height="22.87" fill="#f3ddd0"/>
<rect x="269.91" y="1565.43" width="18.95" height="22.87" fill="#c1ddec"/>
<rect x="288.86" y="1565.43" width="18.95" height="22.87" fill="#cae1ee"/>
<rect x="307.81" y="1565.43" width="18.95" height="22.87" fill="#d6e5ed"/>
<rect x="326.75" y="1565.43" width="18.95" height="22.87" fill="#f7daca"/>
<rect x="345.7" y="1565.43" width="18.95" height="22.87" fill="#eedfd7"/>
<rect x="364.64" y="1565.43" width="18.95" height="22.87" fill="#acd2e7"/>
<rect x="383.59" y="1565.43" width="18.95" height="22.87" fill="#c1ddec"/>
<rect x="402.54" y="1565.43" width="18.95" height="22.87" fill="#b0d4e8"/>
<rect x="421.48" y="1565.43" width="18.95" height="22.87" fill="#a1cce4"/>
<rect x="440.43" y="1565.43" width="18.95" height="22.87" fill="#b0d4e8"/>
<rect x="459.37" y="1565.43" width="18.95" height="22.87" fill="#dae5eb"/>
<rect x="478.32" y="1565.43" width="18.95" height="22.87" fill="#86bddc"/>
<rect x="497.27" y="1565.43" width="18.95" height="22.87" fill="#94c5e0"/>
<rect x="516.21" y="1565.43" width="18.95" height="22.87" fill="#dae5eb"/>
<rect x="535.16" y="1565.43" width="18.95" height="22.87" fill="#acd2e7"/>
<rect x="99.4" y="1588.3" width="18.95" height="22.87" fill="#f9cbb2"/>
<rect x="118.35" y="1588.3" width="18.95" height="22.87" fill="#ece0da"/>
<rect x="137.29" y="1588.3" width="18.95" height="22.87" fill="#ece0da"/>
<rect x="156.24" y="1588.3" width="18.95" height="22.87" fill="#f8c1a5"/>
<rect x="175.18" y="1588.3" width="18.95" height="22.87" fill="#f8c1a5"/>
<rect x="194.13" y="1588.3" width="18.95" height="22.87" fill="#f2a384"/>
<rect x="213.08" y="1588.3" width="18.95" height="22.87" fill="#f3aa8a"/>
<rect x="232.02" y="1588.3" width="18.95" height="22.87" fill="#fad1bb"/>
<rect x="250.97" y="1588.3" width="18.95" height="22.87" fill="#e6e4e3"/>
<rect x="269.91" y="1588.3" width="18.95" height="22.87" fill="#fbd5c0"/>
<rect x="288.86" y="1588.3" width="18.95" height="22.87" fill="#b9d8ea"/>
<rect x="307.81" y="1588.3" width="18.95" height="22.87" fill="#ece0da"/>
<rect x="326.75" y="1588.3" width="18.95" height="22.87" fill="#f8bea1"/>
<rect x="345.7" y="1588.3" width="18.95" height="22.87" fill="#f5dccd"/>
<rect x="364.64" y="1588.3" width="18.95" height="22.87" fill="#f8c1a5"/>
<rect x="383.59" y="1588.3" width="18.95" height="22.87" fill="#f0ded4"/>
<rect x="402.54" y="1588.3" width="18.95" height="22.87" fill="#89bfdd"/>
<rect x="421.48" y="1588.3" width="18.95" height="22.87" fill="#8dc1de"/>
<rect x="440.43" y="1588.3" width="18.95" height="22.87" fill="#d2e5f0"/>
<rect x="459.37" y="1588.3" width="18.95" height="22.87" fill="#d4e5ef"/>
<rect x="478.32" y="1588.3" width="18.95" height="22.87" fill="#9ac8e2"/>
<rect x="497.27" y="1588.3" width="18.95" height="22.87" fill="#e4e4e4"/>
<rect x="516.21" y="1588.3" width="18.95" height="22.87" fill="#e2e4e6"/>
<rect x="535.16" y="1588.3" width="18.95" height="22.87" fill="#1d5ca1"/>
<rect x="99.4" y="1611.16" width="18.95" height="22.87" fill="#f9cbb2"/>
<rect x="118.35" y="1611.16" width="18.95" height="22.87" fill="#ece0da"/>
<rect x="137.29" y="1611.16" width="18.95" height="22.87" fill="#ece0da"/>
<rect x="156.24" y="1611.16" width="18.95" height="22.87" fill="#f8bea1"/>
<rect x="175.18" y="1611.16" width="18.95" height="22.87" fill="#f9c4aa"/>
<rect x="194.13" y="1611.16" width="18.95" height="22.87" fill="#f3aa8a"/>
<rect x="213.08" y="1611.16" width="18.95" height="22.87" fill="#f4ad8e"/>
<rect x="232.02" y="1611.16" width="18.95" height="22.87" fill="#fad1bb"/>
<rect x="250.97" y="1611.16" width="18.95" height="22.87" fill="#e6e4e3"/>
<rect x="269.91" y="1611.16" width="18.95" height="22.87" fill="#fbd8c4"/>
<rect x="288.86" y="1611.16" width="18.95" height="22.87" fill="#c1ddec"/>
<rect x="307.81" y="1611.16" width="18.95" height="22.87" fill="#f3ddd0"/>
<rect x="326.75" y="1611.16" width="18.95" height="22.87" fill="#f9c4aa"/>
<rect x="345.7" y="1611.16" width="18.95" height="22.87" fill="#f0ded4"/>
<rect x="364.64" y="1611.16" width="18.95" height="22.87" fill="#f9cbb2"/>
<rect x="383.59" y="1611.16" width="18.95" height="22.87" fill="#f0ded4"/>
<rect x="402.54" y="1611.16" width="18.95" height="22.87" fill="#a5cee5"/>
<rect x="421.48" y="1611.16" width="18.95" height="22.87" fill="#b0d4e8"/>
<rect x="440.43" y="1611.16" width="18.95" height="22.87" fill="#e2e4e6"/>
<rect x="459.37" y="1611.16" width="18.95" height="22.87" fill="#e4e4e4"/>
<rect x="478.32" y="1611.16" width="18.95" height="22.87" fill="#b9d8ea"/>
<rect x="497.27" y="1611.16" width="18.95" height="22.87" fill="#e6e4e3"/>
<rect x="516.21" y="1611.16" width="18.95" height="22.87" fill="#e4e4e4"/>
<rect x="535.16" y="1611.16" width="18.95" height="22.87" fill="#09356d"/>
<rect x="99.4" y="1634.03" width="18.95" height="22.87" fill="#f1a080"/>
<rect x="118.35" y="1634.03" width="18.95" height="22.87" fill="#f7b798"/>
<rect x="137.29" y="1634.03" width="18.95" height="22.87" fill="#a5cee5"/>
<rect x="156.24" y="1634.03" width="18.95" height="22.87" fill="#eae2dd"/>
<rect x="175.18" y="1634.03" width="18.95" height="22.87" fill="#bb2f31"/>
<rect x="194.13" y="1634.03" width="18.95" height="22.87" fill="#c5dfed"/>
<rect x="213.08" y="1634.03" width="18.95" height="22.87" fill="#f3aa8a"/>
<rect x="232.02" y="1634.03" width="18.95" height="22.87" fill="#f9d9c7"/>
<rect x="250.97" y="1634.03" width="18.95" height="22.87" fill="#90c3df"/>
<rect x="269.91" y="1634.03" width="18.95" height="22.87" fill="#d4e5ef"/>
<rect x="288.86" y="1634.03" width="18.95" height="22.87" fill="#d6e5ed"/>
<rect x="307.81" y="1634.03" width="18.95" height="22.87" fill="#d8e5ec"/>
<rect x="326.75" y="1634.03" width="18.95" height="22.87" fill="#f8bea1"/>
<rect x="345.7" y="1634.03" width="18.95" height="22.87" fill="#f2a687"/>
<rect x="364.64" y="1634.03" width="18.95" height="22.87" fill="#fbd5c0"/>
<rect x="383.59" y="1634.03" width="18.95" height="22.87" fill="#f5b091"/>
<rect x="402.54" y="1634.03" width="18.95" height="22.87" fill="#cae1ee"/>
<rect x="421.48" y="1634.03" width="18.95" height="22.87" fill="#c5dfed"/>
<rect x="440.43" y="1634.03" width="18.95" height="22.87" fill="#cee3ef"/>
<rect x="459.37" y="1634.03" width="18.95" height="22.87" fill="#a1cce4"/>
<rect x="478.32" y="1634.03" width="18.95" height="22.87" fill="#63a7d2"/>
<rect x="497.27" y="1634.03" width="18.95" height="22.87" fill="#e6e4e3"/>
<rect x="516.21" y="1634.03" width="18.95" height="22.87" fill="#a1cce4"/>
<rect x="535.16" y="1634.03" width="18.95" height="22.87" fill="#d4e5ef"/>
<rect x="99.4" y="1656.89" width="18.95" height="22.87" fill="#eae2dd"/>
<rect x="118.35" y="1656.89" width="18.95" height="22.87" fill="#dae5eb"/>
<rect x="137.29" y="1656.89" width="18.95" height="22.87" fill="#dae5eb"/>
<rect x="156.24" y="1656.89" width="18.95" height="22.87" fill="#eae2dd"/>
<rect x="175.18" y="1656.89" width="18.95" height="22.87" fill="#e9896b"/>
<rect x="194.13" y="1656.89" width="18.95" height="22.87" fill="#f2a384"/>
<rect x="213.08" y="1656.89" width="18.95" height="22.87" fill="#ece0da"/>
<rect x="232.02" y="1656.89" width="18.95" height="22.87" fill="#e2e4e6"/>
<rect x="250.97" y="1656.89" width="18.95" height="22.87" fill="#8dc1de"/>
<rect x="269.91" y="1656.89" width="18.95" height="22.87" fill="#e6e4e3"/>
<rect x="288.86" y="1656.89" width="18.95" height="22.87" fill="#90c3df"/>
<rect x="307.81" y="1656.89" width="18.95" height="22.87" fill="#ece0da"/>
<rect x="326.75" y="1656.89" width="18.95" height="22.87" fill="#f9c4aa"/>
<rect x="345.7" y="1656.89" width="18.95" height="22.87" fill="#f09d7d"/>
<rect x="364.64" y="1656.89" width="18.95" height="22.87" fill="#e2785e"/>
<rect x="383.59" y="1656.89" width="18.95" height="22.87" fill="#ed9373"/>
<rect x="402.54" y="1656.89" width="18.95" height="22.87" fill="#94c5e0"/>
<rect x="421.48" y="1656.89" width="18.95" height="22.87" fill="#acd2e7"/>
<rect x="440.43" y="1656.89" width="18.95" height="22.87" fill="#b9d8ea"/>
<rect x="459.37" y="1656.89" width="18.95" height="22.87" fill="#a8d0e6"/>
<rect x="478.32" y="1656.89" width="18.95" height="22.87" fill="#90c3df"/>
<rect x="497.27" y="1656.89" width="18.95" height="22.87" fill="#f9d9c7"/>
<rect x="516.21" y="1656.89" width="18.95" height="22.87" fill="#7fb9da"/>
<rect x="535.16" y="1656.89" width="18.95" height="22.87" fill="#ece0da"/>
<rect x="99.4" y="1679.76" width="18.95" height="22.87" fill="#f1a080"/>
<rect x="118.35" y="1679.76" width="18.95" height="22.87" fill="#cae1ee"/>
<rect x="137.29" y="1679.76" width="18.95" height="22.87" fill="#eedfd7"/>
<rect x="156.24" y="1679.76" width="18.95" height="22.87" fill="#e8e3e0"/>
<rect x="175.18" y="1679.76" width="18.95" height="22.87" fill="#f8bea1"/>
<rect x="194.13" y="1679.76" width="18.95" height="22.87" fill="#f7b798"/>
<rect x="213.08" y="1679.76" width="18.95" height="22.87" fill="#f7ba9c"/>
<rect x="232.02" y="1679.76" width="18.95" height="22.87" fill="#cee3ef"/>
<rect x="250.97" y="1679.76" width="18.95" height="22.87" fill="#90c3df"/>
<rect x="269.91" y="1679.76" width="18.95" height="22.87" fill="#eedfd7"/>
<rect x="288.86" y="1679.76" width="18.95" height="22.87" fill="#eedfd7"/>
<rect x="307.81" y="1679.76" width="18.95" height="22.87" fill="#f1a080"/>
<rect x="326.75" y="1679.76" width="18.95" height="22.87" fill="#ee9676"/>
<rect x="345.7" y="1679.76" width="18.95" height="22.87" fill="#fbd8c4"/>
<rect x="364.64" y="1679.76" width="18.95" height="22.87" fill="#f1a080"/>
<rect x="383.59" y="1679.76" width="18.95" height="22.87" fill="#f7b798"/>
<rect x="402.54" y="1679.76" width="18.95" height="22.87" fill="#7fb9da"/>
<rect x="421.48" y="1679.76" width="18.95" height="22.87" fill="#94c5e0"/>
<rect x="440.43" y="1679.76" width="18.95" height="22.87" fill="#9ecae3"/>
<rect x="459.37" y="1679.76" width="18.95" height="22.87" fill="#e4e4e4"/>
<rect x="478.32" y="1679.76" width="18.95" height="22.87" fill="#89bfdd"/>
<rect x="497.27" y="1679.76" width="18.95" height="22.87" fill="#b9d8ea"/>
<rect x="516.21" y="1679.76" width="18.95" height="22.87" fill="#63a7d2"/>
<rect x="535.16" y="1679.76" width="18.95" height="22.87" fill="#d4e5ef"/>
<rect x="99.4" y="1702.63" width="18.95" height="22.87" fill="#f9d9c7"/>
<rect x="118.35" y="1702.63" width="18.95" height="22.87" fill="#fbd8c4"/>
<rect x="137.29" y="1702.63" width="18.95" height="22.87" fill="#eae2dd"/>
<rect x="156.24" y="1702.63" width="18.95" height="22.87" fill="#d2e5f0"/>
<rect x="175.18" y="1702.63" width="18.95" height="22.87" fill="#f9d9c7"/>
<rect x="194.13" y="1702.63" width="18.95" height="22.87" fill="#eae2dd"/>
<rect x="213.08" y="1702.63" width="18.95" height="22.87" fill="#f7daca"/>
<rect x="232.02" y="1702.63" width="18.95" height="22.87" fill="#f7daca"/>
<rect x="250.97" y="1702.63" width="18.95" height="22.87" fill="#b0d4e8"/>
<rect x="269.91" y="1702.63" width="18.95" height="22.87" fill="#f1a080"/>
<rect x="288.86" y="1702.63" width="18.95" height="22.87" fill="#f3aa8a"/>
<rect x="307.81" y="1702.63" width="18.95" height="22.87" fill="#f7b798"/>
<rect x="326.75" y="1702.63" width="18.95" height="22.87" fill="#ea8c6e"/>
<rect x="345.7" y="1702.63" width="18.95" height="22.87" fill="#f8bea1"/>
<rect x="364.64" y="1702.63" width="18.95" height="22.87" fill="#f1a080"/>
<rect x="383.59" y="1702.63" width="18.95" height="22.87" fill="#f8bea1"/>
<rect x="402.54" y="1702.63" width="18.95" height="22.87" fill="#7cb6d9"/>
<rect x="421.48" y="1702.63" width="18.95" height="22.87" fill="#9ecae3"/>
<rect x="440.43" y="1702.63" width="18.95" height="22.87" fill="#89bfdd"/>
<rect x="459.37" y="1702.63" width="18.95" height="22.87" fill="#89bfdd"/>
<rect x="478.32" y="1702.63" width="18.95" height="22.87" fill="#90c3df"/>
<rect x="497.27" y="1702.63" width="18.95" height="22.87" fill="#9ecae3"/>
<rect x="516.21" y="1702.63" width="18.95" height="22.87" fill="#63a7d2"/>
<rect x="535.16" y="1702.63" width="18.95" height="22.87" fill="#fbd8c4"/>
<rect x="99.4" y="1725.49" width="18.95" height="22.87" fill="#f8bea1"/>
<rect x="118.35" y="1725.49" width="18.95" height="22.87" fill="#f9d9c7"/>
<rect x="137.29" y="1725.49" width="18.95" height="22.87" fill="#e2785e"/>
<rect x="156.24" y="1725.49" width="18.95" height="22.87" fill="#faceb7"/>
<rect x="175.18" y="1725.49" width="18.95" height="22.87" fill="#f7daca"/>
<rect x="194.13" y="1725.49" width="18.95" height="22.87" fill="#f7ba9c"/>
<rect x="213.08" y="1725.49" width="18.95" height="22.87" fill="#f09d7d"/>
<rect x="232.02" y="1725.49" width="18.95" height="22.87" fill="#f2a687"/>
<rect x="250.97" y="1725.49" width="18.95" height="22.87" fill="#f8c1a5"/>
<rect x="269.91" y="1725.49" width="18.95" height="22.87" fill="#a8d0e6"/>
<rect x="288.86" y="1725.49" width="18.95" height="22.87" fill="#97c6e1"/>
<rect x="307.81" y="1725.49" width="18.95" height="22.87" fill="#9ecae3"/>
<rect x="326.75" y="1725.49" width="18.95" height="22.87" fill="#9ecae3"/>
<rect x="345.7" y="1725.49" width="18.95" height="22.87" fill="#94c5e0"/>
<rect x="364.64" y="1725.49" width="18.95" height="22.87" fill="#97c6e1"/>
<rect x="383.59" y="1725.49" width="18.95" height="22.87" fill="#89bfdd"/>
<rect x="402.54" y="1725.49" width="18.95" height="22.87" fill="#f3ddd0"/>
<rect x="421.48" y="1725.49" width="18.95" height="22.87" fill="#a5cee5"/>
<rect x="440.43" y="1725.49" width="18.95" height="22.87" fill="#a5cee5"/>
<rect x="459.37" y="1725.49" width="18.95" height="22.87" fill="#faceb7"/>
<rect x="478.32" y="1725.49" width="18.95" height="22.87" fill="#a5cee5"/>
<rect x="497.27" y="1725.49" width="18.95" height="22.87" fill="#fbd5c0"/>
<rect x="516.21" y="1725.49" width="18.95" height="22.87" fill="#fbd5c0"/>
<rect x="535.16" y="1725.49" width="18.95" height="22.87" fill="#f0ded4"/>
<rect x="99.4" y="1748.36" width="18.95" height="22.87" fill="#f4ad8e"/>
<rect x="118.35" y="1748.36" width="18.95" height="22.87" fill="#f9c4aa"/>
<rect x="137.29" y="1748.36" width="18.95" height="22.87" fill="#f2a384"/>
<rect x="156.24" y="1748.36" width="18.95" height="22.87" fill="#f7ba9c"/>
<rect x="175.18" y="1748.36" width="18.95" height="22.87" fill="#f5b091"/>
<rect x="194.13" y="1748.36" width="18.95" height="22.87" fill="#ea8c6e"/>
<rect x="213.08" y="1748.36" width="18.95" height="22.87" fill="#e68266"/>
<rect x="232.02" y="1748.36" width="18.95" height="22.87" fill="#f2a384"/>
<rect x="250.97" y="1748.36" width="18.95" height="22.87" fill="#e6e4e3"/>
<rect x="269.91" y="1748.36" width="18.95" height="22.87" fill="#e6e4e3"/>
<rect x="288.86" y="1748.36" width="18.95" height="22.87" fill="#acd2e7"/>
<rect x="307.81" y="1748.36" width="18.95" height="22.87" fill="#b0d4e8"/>
<rect x="326.75" y="1748.36" width="18.95" height="22.87" fill="#82bbdb"/>
<rect x="345.7" y="1748.36" width="18.95" height="22.87" fill="#89bfdd"/>
<rect x="364.64" y="1748.36" width="18.95" height="22.87" fill="#82bbdb"/>
<rect x="383.59" y="1748.36" width="18.95" height="22.87" fill="#63a7d2"/>
<rect x="402.54" y="1748.36" width="18.95" height="22.87" fill="#c1ddec"/>
<rect x="421.48" y="1748.36" width="18.95" height="22.87" fill="#dae5eb"/>
<rect x="440.43" y="1748.36" width="18.95" height="22.87" fill="#eae2dd"/>
<rect x="459.37" y="1748.36" width="18.95" height="22.87" fill="#ece0da"/>
<rect x="478.32" y="1748.36" width="18.95" height="22.87" fill="#d2e5f0"/>
<rect x="497.27" y="1748.36" width="18.95" height="22.87" fill="#eedfd7"/>
<rect x="516.21" y="1748.36" width="18.95" height="22.87" fill="#e2e4e6"/>
<rect x="535.16" y="1748.36" width="18.95" height="22.87" fill="#b0d4e8"/>
<rect x="99.4" y="1771.22" width="18.95" height="22.87" fill="#eae2dd"/>
<rect x="118.35" y="1771.22" width="18.95" height="22.87" fill="#f4ad8e"/>
<rect x="137.29" y="1771.22" width="18.95" height="22.87" fill="#fad1bb"/>
<rect x="156.24" y="1771.22" width="18.95" height="22.87" fill="#acd2e7"/>
<rect x="175.18" y="1771.22" width="18.95" height="22.87" fill="#f8bea1"/>
<rect x="194.13" y="1771.22" width="18.95" height="22.87" fill="#fbd5c0"/>
<rect x="213.08" y="1771.22" width="18.95" height="22.87" fill="#c53533"/>
<rect x="232.02" y="1771.22" width="18.95" height="22.87" fill="#dc6853"/>
<rect x="250.97" y="1771.22" width="18.95" height="22.87" fill="#e4e4e4"/>
<rect x="269.91" y="1771.22" width="18.95" height="22.87" fill="#94c5e0"/>
<rect x="288.86" y="1771.22" width="18.95" height="22.87" fill="#63a7d2"/>
<rect x="307.81" y="1771.22" width="18.95" height="22.87" fill="#d6e5ed"/>
<rect x="326.75" y="1771.22" width="18.95" height="22.87" fill="#90c3df"/>
<rect x="345.7" y="1771.22" width="18.95" height="22.87" fill="#c1ddec"/>
<rect x="364.64" y="1771.22" width="18.95" height="22.87" fill="#c5dfed"/>
<rect x="383.59" y="1771.22" width="18.95" height="22.87" fill="#b5d6e9"/>
<rect x="402.54" y="1771.22" width="18.95" height="22.87" fill="#f9d9c7"/>
<rect x="421.48" y="1771.22" width="18.95" height="22.87" fill="#d2e5f0"/>
<rect x="440.43" y="1771.22" width="18.95" height="22.87" fill="#e6e4e3"/>
<rect x="459.37" y="1771.22" width="18.95" height="22.87" fill="#ece0da"/>
<rect x="478.32" y="1771.22" width="18.95" height="22.87" fill="#f9cbb2"/>
<rect x="497.27" y="1771.22" width="18.95" height="22.87" fill="#cae1ee"/>
<rect x="516.21" y="1771.22" width="18.95" height="22.87" fill="#eedfd7"/>
<rect x="535.16" y="1771.22" width="18.95" height="22.87" fill="#cee3ef"/>
<rect x="99.4" y="1794.09" width="18.95" height="22.87" fill="#dc6853"/>
<rect x="118.35" y="1794.09" width="18.95" height="22.87" fill="#f1a080"/>
<rect x="137.29" y="1794.09" width="18.95" height="22.87" fill="#f9c4aa"/>
<rect x="156.24" y="1794.09" width="18.95" height="22.87" fill="#f6b495"/>
<rect x="175.18" y="1794.09" width="18.95" height="22.87" fill="#de6d56"/>
<rect x="194.13" y="1794.09" width="18.95" height="22.87" fill="#f8c1a5"/>
<rect x="213.08" y="1794.09" width="18.95" height="22.87" fill="#f6b495"/>
<rect x="232.02" y="1794.09" width="18.95" height="22.87" fill="#f9cbb2"/>
<rect x="250.97" y="1794.09" width="18.95" height="22.87" fill="#90c3df"/>
<rect x="269.91" y="1794.09" width="18.95" height="22.87" fill="#e6e4e3"/>
<rect x="288.86" y="1794.09" width="18.95" height="22.87" fill="#c1ddec"/>
<rect x="307.81" y="1794.09" width="18.95" height="22.87" fill="#c5dfed"/>
<rect x="326.75" y="1794.09" width="18.95" height="22.87" fill="#a8d0e6"/>
<rect x="345.7" y="1794.09" width="18.95" height="22.87" fill="#acd2e7"/>
<rect x="364.64" y="1794.09" width="18.95" height="22.87" fill="#a1cce4"/>
<rect x="383.59" y="1794.09" width="18.95" height="22.87" fill="#89bfdd"/>
<rect x="402.54" y="1794.09" width="18.95" height="22.87" fill="#e6e4e3"/>
<rect x="421.48" y="1794.09" width="18.95" height="22.87" fill="#c5dfed"/>
<rect x="440.43" y="1794.09" width="18.95" height="22.87" fill="#d6e5ed"/>
<rect x="459.37" y="1794.09" width="18.95" height="22.87" fill="#f9d9c7"/>
<rect x="478.32" y="1794.09" width="18.95" height="22.87" fill="#d6e5ed"/>
<rect x="497.27" y="1794.09" width="18.95" height="22.87" fill="#a5cee5"/>
<rect x="516.21" y="1794.09" width="18.95" height="22.87" fill="#d6e5ed"/>
<rect x="535.16" y="1794.09" width="18.95" height="22.87" fill="#c5dfed"/>
<rect x="99.4" y="1816.96" width="18.95" height="22.87" fill="#f1a080"/>
<rect x="118.35" y="1816.96" width="18.95" height="22.87" fill="#f2a384"/>
<rect x="137.29" y="1816.96" width="18.95" height="22.87" fill="#de6d56"/>
<rect x="156.24" y="1816.96" width="18.95" height="22.87" fill="#f5dccd"/>
<rect x="175.18" y="1816.96" width="18.95" height="22.87" fill="#eb8f71"/>
<rect x="194.13" y="1816.96" width="18.95" height="22.87" fill="#f9d9c7"/>
<rect x="213.08" y="1816.96" width="18.95" height="22.87" fill="#ee9676"/>
<rect x="232.02" y="1816.96" width="18.95" height="22.87" fill="#f4ad8e"/>
<rect x="250.97" y="1816.96" width="18.95" height="22.87" fill="#a5cee5"/>
<rect x="269.91" y="1816.96" width="18.95" height="22.87" fill="#a8d0e6"/>
<rect x="288.86" y="1816.96" width="18.95" height="22.87" fill="#b9d8ea"/>
<rect x="307.81" y="1816.96" width="18.95" height="22.87" fill="#dce4ea"/>
<rect x="326.75" y="1816.96" width="18.95" height="22.87" fill="#cae1ee"/>
<rect x="345.7" y="1816.96" width="18.95" height="22.87" fill="#66a9d3"/>
<rect x="364.64" y="1816.96" width="18.95" height="22.87" fill="#63a7d2"/>
<rect x="383.59" y="1816.96" width="18.95" height="22.87" fill="#cae1ee"/>
<rect x="402.54" y="1816.96" width="18.95" height="22.87" fill="#f0ded4"/>
<rect x="421.48" y="1816.96" width="18.95" height="22.87" fill="#d2e5f0"/>
<rect x="440.43" y="1816.96" width="18.95" height="22.87" fill="#c5dfed"/>
<rect x="459.37" y="1816.96" width="18.95" height="22.87" fill="#d8e5ec"/>
<rect x="478.32" y="1816.96" width="18.95" height="22.87" fill="#ece0da"/>
<rect x="497.27" y="1816.96" width="18.95" height="22.87" fill="#a8d0e6"/>
<rect x="516.21" y="1816.96" width="18.95" height="22.87" fill="#e2e4e6"/>
<rect x="535.16" y="1816.96" width="18.95" height="22.87" fill="#ece0da"/>
<rect x="99.4" y="1839.82" width="18.95" height="22.87" fill="#dce4ea"/>
<rect x="118.35" y="1839.82" width="18.95" height="22.87" fill="#cc403a"/>
<rect x="137.29" y="1839.82" width="18.95" height="22.87" fill="#e6e4e3"/>
<rect x="156.24" y="1839.82" width="18.95" height="22.87" fill="#b0d4e8"/>
<rect x="175.18" y="1839.82" width="18.95" height="22.87" fill="#fbd5c0"/>
<rect x="194.13" y="1839.82" width="18.95" height="22.87" fill="#fbd5c0"/>
<rect x="213.08" y="1839.82" width="18.95" height="22.87" fill="#ca3e39"/>
<rect x="232.02" y="1839.82" width="18.95" height="22.87" fill="#ed9373"/>
<rect x="250.97" y="1839.82" width="18.95" height="22.87" fill="#f9d9c7"/>
<rect x="269.91" y="1839.82" width="18.95" height="22.87" fill="#f9d9c7"/>
<rect x="288.86" y="1839.82" width="18.95" height="22.87" fill="#cee3ef"/>
<rect x="307.81" y="1839.82" width="18.95" height="22.87" fill="#97c6e1"/>
<rect x="326.75" y="1839.82" width="18.95" height="22.87" fill="#b0d4e8"/>
<rect x="345.7" y="1839.82" width="18.95" height="22.87" fill="#d6e5ed"/>
<rect x="364.64" y="1839.82" width="18.95" height="22.87" fill="#f9c4aa"/>
<rect x="383.59" y="1839.82" width="18.95" height="22.87" fill="#fbd8c4"/>
<rect x="402.54" y="1839.82" width="18.95" height="22.87" fill="#86bddc"/>
<rect x="421.48" y="1839.82" width="18.95" height="22.87" fill="#d4e5ef"/>
<rect x="440.43" y="1839.82" width="18.95" height="22.87" fill="#b9d8ea"/>
<rect x="459.37" y="1839.82" width="18.95" height="22.87" fill="#b9d8ea"/>
<rect x="478.32" y="1839.82" width="18.95" height="22.87" fill="#a1cce4"/>
<rect x="497.27" y="1839.82" width="18.95" height="22.87" fill="#b9d8ea"/>
<rect x="516.21" y="1839.82" width="18.95" height="22.87" fill="#dae5eb"/>
<rect x="535.16" y="1839.82" width="18.95" height="22.87" fill="#b9d8ea"/>
<rect x="99.4" y="1862.69" width="18.95" height="22.87" fill="#b0d4e8"/>
<rect x="118.35" y="1862.69" width="18.95" height="22.87" fill="#b5d6e9"/>
<rect x="137.29" y="1862.69" width="18.95" height="22.87" fill="#acd2e7"/>
<rect x="156.24" y="1862.69" width="18.95" height="22.87" fill="#a1cce4"/>
<rect x="175.18" y="1862.69" width="18.95" height="22.87" fill="#acd2e7"/>
<rect x="194.13" y="1862.69" width="18.95" height="22.87" fill="#a5cee5"/>
<rect x="213.08" y="1862.69" width="18.95" height="22.87" fill="#b0d4e8"/>
<rect x="232.02" y="1862.69" width="18.95" height="22.87" fill="#b5d6e9"/>
<rect x="250.97" y="1862.69" width="18.95" height="22.87" fill="#dce4ea"/>
<rect x="269.91" y="1862.69" width="18.95" height="22.87" fill="#f3aa8a"/>
<rect x="288.86" y="1862.69" width="18.95" height="22.87" fill="#f1a080"/>
<rect x="307.81" y="1862.69" width="18.95" height="22.87" fill="#e4e4e4"/>
<rect x="326.75" y="1862.69" width="18.95" height="22.87" fill="#c5dfed"/>
<rect x="345.7" y="1862.69" width="18.95" height="22.87" fill="#a5cee5"/>
<rect x="364.64" y="1862.69" width="18.95" height="22.87" fill="#b5d6e9"/>
<rect x="383.59" y="1862.69" width="18.95" height="22.87" fill="#9ecae3"/>
<rect x="402.54" y="1862.69" width="18.95" height="22.87" fill="#f3aa8a"/>
<rect x="421.48" y="1862.69" width="18.95" height="22.87" fill="#f4ad8e"/>
<rect x="440.43" y="1862.69" width="18.95" height="22.87" fill="#f2a384"/>
<rect x="459.37" y="1862.69" width="18.95" height="22.87" fill="#f5dccd"/>
<rect x="478.32" y="1862.69" width="18.95" height="22.87" fill="#f6b495"/>
<rect x="497.27" y="1862.69" width="18.95" height="22.87" fill="#f09d7d"/>
<rect x="516.21" y="1862.69" width="18.95" height="22.87" fill="#f1a080"/>
<rect x="535.16" y="1862.69" width="18.95" height="22.87" fill="#f09d7d"/>
<rect x="99.4" y="1885.55" width="18.95" height="22.87" fill="#eedfd7"/>
<rect x="118.35" y="1885.55" width="18.95" height="22.87" fill="#acd2e7"/>
<rect x="137.29" y="1885.55" width="18.95" height="22.87" fill="#b5d6e9"/>
<rect x="156.24" y="1885.55" width="18.95" height="22.87" fill="#acd2e7"/>
<rect x="175.18" y="1885.55" width="18.95" height="22.87" fill="#b5d6e9"/>
<rect x="194.13" y="1885.55" width="18.95" height="22.87" fill="#b5d6e9"/>
<rect x="213.08" y="1885.55" width="18.95" height="22.87" fill="#b5d6e9"/>
<rect x="232.02" y="1885.55" width="18.95" height="22.87" fill="#b0d4e8"/>
<rect x="250.97" y="1885.55" width="18.95" height="22.87" fill="#b5d6e9"/>
<rect x="269.91" y="1885.55" width="18.95" height="22.87" fill="#fad1bb"/>
<rect x="288.86" y="1885.55" width="18.95" height="22.87" fill="#f9d9c7"/>
<rect x="307.81" y="1885.55" width="18.95" height="22.87" fill="#b0d4e8"/>
<rect x="326.75" y="1885.55" width="18.95" height="22.87" fill="#a5cee5"/>
<rect x="345.7" y="1885.55" width="18.95" height="22.87" fill="#a1cce4"/>
<rect x="364.64" y="1885.55" width="18.95" height="22.87" fill="#a1cce4"/>
<rect x="383.59" y="1885.55" width="18.95" height="22.87" fill="#94c5e0"/>
<rect x="402.54" y="1885.55" width="18.95" height="22.87" fill="#f7b798"/>
<rect x="421.48" y="1885.55" width="18.95" height="22.87" fill="#f1a080"/>
<rect x="440.43" y="1885.55" width="18.95" height="22.87" fill="#f2a687"/>
<rect x="459.37" y="1885.55" width="18.95" height="22.87" fill="#f09d7d"/>
<rect x="478.32" y="1885.55" width="18.95" height="22.87" fill="#f7ba9c"/>
<rect x="497.27" y="1885.55" width="18.95" height="22.87" fill="#f3aa8a"/>
<rect x="516.21" y="1885.55" width="18.95" height="22.87" fill="#e88668"/>
<rect x="535.16" y="1885.55" width="18.95" height="22.87" fill="#ed9373"/>
<rect x="99.4" y="1908.42" width="18.95" height="22.87" fill="#b0d4e8"/>
<rect x="118.35" y="1908.42" width="18.95" height="22.87" fill="#acd2e7"/>
<rect x="137.29" y="1908.42" width="18.95" height="22.87" fill="#acd2e7"/>
<rect x="156.24" y="1908.42" width="18.95" height="22.87" fill="#a8d0e6"/>
<rect x="175.18" y="1908.42" width="18.95" height="22.87" fill="#b5d6e9"/>
<rect x="194.13" y="1908.42" width="18.95" height="22.87" fill="#b9d8ea"/>
<rect x="213.08" y="1908.42" width="18.95" height="22.87" fill="#b9d8ea"/>
<rect x="232.02" y="1908.42" width="18.95" height="22.87" fill="#b0d4e8"/>
<rect x="250.97" y="1908.42" width="18.95" height="22.87" fill="#f7ba9c"/>
<rect x="269.91" y="1908.42" width="18.95" height="22.87" fill="#b5d6e9"/>
<rect x="288.86" y="1908.42" width="18.95" height="22.87" fill="#f4ad8e"/>
<rect x="307.81" y="1908.42" width="18.95" height="22.87" fill="#acd2e7"/>
<rect x="326.75" y="1908.42" width="18.95" height="22.87" fill="#f9d9c7"/>
<rect x="345.7" y="1908.42" width="18.95" height="22.87" fill="#a1cce4"/>
<rect x="364.64" y="1908.42" width="18.95" height="22.87" fill="#a1cce4"/>
<rect x="383.59" y="1908.42" width="18.95" height="22.87" fill="#90c3df"/>
<rect x="402.54" y="1908.42" width="18.95" height="22.87" fill="#f5b091"/>
<rect x="421.48" y="1908.42" width="18.95" height="22.87" fill="#f09d7d"/>
<rect x="440.43" y="1908.42" width="18.95" height="22.87" fill="#f2a687"/>
<rect x="459.37" y="1908.42" width="18.95" height="22.87" fill="#f09d7d"/>
<rect x="478.32" y="1908.42" width="18.95" height="22.87" fill="#f7ba9c"/>
<rect x="497.27" y="1908.42" width="18.95" height="22.87" fill="#ed9373"/>
<rect x="516.21" y="1908.42" width="18.95" height="22.87" fill="#f2a384"/>
<rect x="535.16" y="1908.42" width="18.95" height="22.87" fill="#f09d7d"/>
<rect x="99.4" y="1931.29" width="18.95" height="22.87" fill="#a5cee5"/>
<rect x="118.35" y="1931.29" width="18.95" height="22.87" fill="#e0e4e7"/>
<rect x="137.29" y="1931.29" width="18.95" height="22.87" fill="#e0e4e7"/>
<rect x="156.24" y="1931.29" width="18.95" height="22.87" fill="#4a94c6"/>
<rect x="175.18" y="1931.29" width="18.95" height="22.87" fill="#e0e4e7"/>
<rect x="194.13" y="1931.29" width="18.95" height="22.87" fill="#a8d0e6"/>
<rect x="213.08" y="1931.29" width="18.95" height="22.87" fill="#7fb9da"/>
<rect x="232.02" y="1931.29" width="18.95" height="22.87" fill="#b5d6e9"/>
<rect x="250.97" y="1931.29" width="18.95" height="22.87" fill="#e8e3e0"/>
<rect x="269.91" y="1931.29" width="18.95" height="22.87" fill="#e6e4e3"/>
<rect x="288.86" y="1931.29" width="18.95" height="22.87" fill="#e4e4e4"/>
<rect x="307.81" y="1931.29" width="18.95" height="22.87" fill="#d6e5ed"/>
<rect x="326.75" y="1931.29" width="18.95" height="22.87" fill="#a8d0e6"/>
<rect x="345.7" y="1931.29" width="18.95" height="22.87" fill="#e2e4e6"/>
<rect x="364.64" y="1931.29" width="18.95" height="22.87" fill="#e8e3e0"/>
<rect x="383.59" y="1931.29" width="18.95" height="22.87" fill="#b0d4e8"/>
<rect x="402.54" y="1931.29" width="18.95" height="22.87" fill="#f3aa8a"/>
<rect x="421.48" y="1931.29" width="18.95" height="22.87" fill="#f9cbb2"/>
<rect x="440.43" y="1931.29" width="18.95" height="22.87" fill="#f7ba9c"/>
<rect x="459.37" y="1931.29" width="18.95" height="22.87" fill="#f9c8ae"/>
<rect x="478.32" y="1931.29" width="18.95" height="22.87" fill="#f5b091"/>
<rect x="497.27" y="1931.29" width="18.95" height="22.87" fill="#f2a687"/>
<rect x="516.21" y="1931.29" width="18.95" height="22.87" fill="#e88668"/>
<rect x="535.16" y="1931.29" width="18.95" height="22.87" fill="#d85c4b"/>
<rect x="99.4" y="1954.15" width="18.95" height="22.87" fill="#acd2e7"/>
<rect x="118.35" y="1954.15" width="18.95" height="22.87" fill="#a8d0e6"/>
<rect x="137.29" y="1954.15" width="18.95" height="22.87" fill="#e4e4e4"/>
<rect x="156.24" y="1954.15" width="18.95" height="22.87" fill="#a5cee5"/>
<rect x="175.18" y="1954.15" width="18.95" height="22.87" fill="#e4e4e4"/>
<rect x="194.13" y="1954.15" width="18.95" height="22.87" fill="#b5d6e9"/>
<rect x="213.08" y="1954.15" width="18.95" height="22.87" fill="#b0d4e8"/>
<rect x="232.02" y="1954.15" width="18.95" height="22.87" fill="#b0d4e8"/>
<rect x="250.97" y="1954.15" width="18.95" height="22.87" fill="#e2e4e6"/>
<rect x="269.91" y="1954.15" width="18.95" height="22.87" fill="#f9d9c7"/>
<rect x="288.86" y="1954.15" width="18.95" height="22.87" fill="#eae2dd"/>
<rect x="307.81" y="1954.15" width="18.95" height="22.87" fill="#b0d4e8"/>
<rect x="326.75" y="1954.15" width="18.95" height="22.87" fill="#7fb9da"/>
<rect x="345.7" y="1954.15" width="18.95" height="22.87" fill="#acd2e7"/>
<rect x="364.64" y="1954.15" width="18.95" height="22.87" fill="#cae1ee"/>
<rect x="383.59" y="1954.15" width="18.95" height="22.87" fill="#94c5e0"/>
<rect x="402.54" y="1954.15" width="18.95" height="22.87" fill="#e47c60"/>
<rect x="421.48" y="1954.15" width="18.95" height="22.87" fill="#fbd8c4"/>
<rect x="440.43" y="1954.15" width="18.95" height="22.87" fill="#f3aa8a"/>
<rect x="459.37" y="1954.15" width="18.95" height="22.87" fill="#f4ad8e"/>
<rect x="478.32" y="1954.15" width="18.95" height="22.87" fill="#ed9373"/>
<rect x="497.27" y="1954.15" width="18.95" height="22.87" fill="#f2a687"/>
<rect x="516.21" y="1954.15" width="18.95" height="22.87" fill="#f1a080"/>
<rect x="535.16" y="1954.15" width="18.95" height="22.87" fill="#e2785e"/>
<rect x="99.4" y="1977.02" width="18.95" height="22.87" fill="#89bfdd"/>
<rect x="118.35" y="1977.02" width="18.95" height="22.87" fill="#94c5e0"/>
<rect x="137.29" y="1977.02" width="18.95" height="22.87" fill="#f9d9c7"/>
<rect x="156.24" y="1977.02" width="18.95" height="22.87" fill="#e6e4e3"/>
<rect x="175.18" y="1977.02" width="18.95" height="22.87" fill="#c5dfed"/>
<rect x="194.13" y="1977.02" width="18.95" height="22.87" fill="#dae5eb"/>
<rect x="213.08" y="1977.02" width="18.95" height="22.87" fill="#b0d4e8"/>
<rect x="232.02" y="1977.02" width="18.95" height="22.87" fill="#3783bc"/>
<rect x="250.97" y="1977.02" width="18.95" height="22.87" fill="#f2a384"/>
<rect x="269.91" y="1977.02" width="18.95" height="22.87" fill="#fbd8c4"/>
<rect x="288.86" y="1977.02" width="18.95" height="22.87" fill="#b5d6e9"/>
<rect x="307.81" y="1977.02" width="18.95" height="22.87" fill="#eedfd7"/>
<rect x="326.75" y="1977.02" width="18.95" height="22.87" fill="#e8e3e0"/>
<rect x="345.7" y="1977.02" width="18.95" height="22.87" fill="#acd2e7"/>
<rect x="364.64" y="1977.02" width="18.95" height="22.87" fill="#86bddc"/>
<rect x="383.59" y="1977.02" width="18.95" height="22.87" fill="#e2e4e6"/>
<rect x="402.54" y="1977.02" width="18.95" height="22.87" fill="#f09d7d"/>
<rect x="421.48" y="1977.02" width="18.95" height="22.87" fill="#f9c8ae"/>
<rect x="440.43" y="1977.02" width="18.95" height="22.87" fill="#eb8f71"/>
<rect x="459.37" y="1977.02" width="18.95" height="22.87" fill="#ed9373"/>
<rect x="478.32" y="1977.02" width="18.95" height="22.87" fill="#f2a687"/>
<rect x="497.27" y="1977.02" width="18.95" height="22.87" fill="#f9c8ae"/>
<rect x="516.21" y="1977.02" width="18.95" height="22.87" fill="#f3aa8a"/>
<rect x="535.16" y="1977.02" width="18.95" height="22.87" fill="#f0ded4"/>
<rect x="99.4" y="1999.88" width="18.95" height="22.87" fill="#89bfdd"/>
<rect x="118.35" y="1999.88" width="18.95" height="22.87" fill="#d6e5ed"/>
<rect x="137.29" y="1999.88" width="18.95" height="22.87" fill="#9ecae3"/>
<rect x="156.24" y="1999.88" width="18.95" height="22.87" fill="#a5cee5"/>
<rect x="175.18" y="1999.88" width="18.95" height="22.87" fill="#6aabd4"/>
<rect x="194.13" y="1999.88" width="18.95" height="22.87" fill="#cae1ee"/>
<rect x="213.08" y="1999.88" width="18.95" height="22.87" fill="#e4e4e4"/>
<rect x="232.02" y="1999.88" width="18.95" height="22.87" fill="#dce4ea"/>
<rect x="250.97" y="1999.88" width="18.95" height="22.87" fill="#a5cee5"/>
<rect x="269.91" y="1999.88" width="18.95" height="22.87" fill="#e1755b"/>
<rect x="288.86" y="1999.88" width="18.95" height="22.87" fill="#e4e4e4"/>
<rect x="307.81" y="1999.88" width="18.95" height="22.87" fill="#eae2dd"/>
<rect x="326.75" y="1999.88" width="18.95" height="22.87" fill="#90c3df"/>
<rect x="345.7" y="1999.88" width="18.95" height="22.87" fill="#dee4e8"/>
<rect x="364.64" y="1999.88" width="18.95" height="22.87" fill="#f9c8ae"/>
<rect x="383.59" y="1999.88" width="18.95" height="22.87" fill="#cee3ef"/>
<rect x="402.54" y="1999.88" width="18.95" height="22.87" fill="#f5b091"/>
<rect x="421.48" y="1999.88" width="18.95" height="22.87" fill="#fbd5c0"/>
<rect x="440.43" y="1999.88" width="18.95" height="22.87" fill="#e57f63"/>
<rect x="459.37" y="1999.88" width="18.95" height="22.87" fill="#f9cbb2"/>
<rect x="478.32" y="1999.88" width="18.95" height="22.87" fill="#ed9373"/>
<rect x="497.27" y="1999.88" width="18.95" height="22.87" fill="#f3aa8a"/>
<rect x="516.21" y="1999.88" width="18.95" height="22.87" fill="#f7ba9c"/>
<rect x="535.16" y="1999.88" width="18.95" height="22.87" fill="#dce4ea"/>
<rect x="99.4" y="2022.75" width="18.95" height="22.87" fill="#63a7d2"/>
<rect x="118.35" y="2022.75" width="18.95" height="22.87" fill="#a5cee5"/>
<rect x="137.29" y="2022.75" width="18.95" height="22.87" fill="#bddaeb"/>
<rect x="156.24" y="2022.75" width="18.95" height="22.87" fill="#2a71b1"/>
<rect x="175.18" y="2022.75" width="18.95" height="22.87" fill="#a1cce4"/>
<rect x="194.13" y="2022.75" width="18.95" height="22.87" fill="#d6e5ed"/>
<rect x="213.08" y="2022.75" width="18.95" height="22.87" fill="#b0d4e8"/>
<rect x="232.02" y="2022.75" width="18.95" height="22.87" fill="#f0ded4"/>
<rect x="250.97" y="2022.75" width="18.95" height="22.87" fill="#e4e4e4"/>
<rect x="269.91" y="2022.75" width="18.95" height="22.87" fill="#f8bea1"/>
<rect x="288.86" y="2022.75" width="18.95" height="22.87" fill="#f7b798"/>
<rect x="307.81" y="2022.75" width="18.95" height="22.87" fill="#faceb7"/>
<rect x="326.75" y="2022.75" width="18.95" height="22.87" fill="#c1ddec"/>
<rect x="345.7" y="2022.75" width="18.95" height="22.87" fill="#e6e4e3"/>
<rect x="364.64" y="2022.75" width="18.95" height="22.87" fill="#fbd5c0"/>
<rect x="383.59" y="2022.75" width="18.95" height="22.87" fill="#a5cee5"/>
<rect x="402.54" y="2022.75" width="18.95" height="22.87" fill="#f3aa8a"/>
<rect x="421.48" y="2022.75" width="18.95" height="22.87" fill="#f0ded4"/>
<rect x="440.43" y="2022.75" width="18.95" height="22.87" fill="#f3aa8a"/>
<rect x="459.37" y="2022.75" width="18.95" height="22.87" fill="#f7ba9c"/>
<rect x="478.32" y="2022.75" width="18.95" height="22.87" fill="#f3aa8a"/>
<rect x="497.27" y="2022.75" width="18.95" height="22.87" fill="#f9c8ae"/>
<rect x="516.21" y="2022.75" width="18.95" height="22.87" fill="#f8c1a5"/>
<rect x="535.16" y="2022.75" width="18.95" height="22.87" fill="#f8bea1"/>
<rect x="99.4" y="2045.62" width="18.95" height="22.87" fill="#86bddc"/>
<rect x="118.35" y="2045.62" width="18.95" height="22.87" fill="#f9d9c7"/>
<rect x="137.29" y="2045.62" width="18.95" height="22.87" fill="#f8c1a5"/>
<rect x="156.24" y="2045.62" width="18.95" height="22.87" fill="#7fb9da"/>
<rect x="175.18" y="2045.62" width="18.95" height="22.87" fill="#94c5e0"/>
<rect x="194.13" y="2045.62" width="18.95" height="22.87" fill="#9ac8e2"/>
<rect x="213.08" y="2045.62" width="18.95" height="22.87" fill="#f5b091"/>
<rect x="232.02" y="2045.62" width="18.95" height="22.87" fill="#faceb7"/>
<rect x="250.97" y="2045.62" width="18.95" height="22.87" fill="#f4ad8e"/>
<rect x="269.91" y="2045.62" width="18.95" height="22.87" fill="#f9c4aa"/>
<rect x="288.86" y="2045.62" width="18.95" height="22.87" fill="#f0ded4"/>
<rect x="307.81" y="2045.62" width="18.95" height="22.87" fill="#f5dccd"/>
<rect x="326.75" y="2045.62" width="18.95" height="22.87" fill="#71b0d6"/>
<rect x="345.7" y="2045.62" width="18.95" height="22.87" fill="#6eaed5"/>
<rect x="364.64" y="2045.62" width="18.95" height="22.87" fill="#eedfd7"/>
<rect x="383.59" y="2045.62" width="18.95" height="22.87" fill="#63a7d2"/>
<rect x="402.54" y="2045.62" width="18.95" height="22.87" fill="#f9cbb2"/>
<rect x="421.48" y="2045.62" width="18.95" height="22.87" fill="#faceb7"/>
<rect x="440.43" y="2045.62" width="18.95" height="22.87" fill="#f8bea1"/>
<rect x="459.37" y="2045.62" width="18.95" height="22.87" fill="#f6b495"/>
<rect x="478.32" y="2045.62" width="18.95" height="22.87" fill="#faceb7"/>
<rect x="497.27" y="2045.62" width="18.95" height="22.87" fill="#fbd5c0"/>
<rect x="516.21" y="2045.62" width="18.95" height="22.87" fill="#fbd8c4"/>
<rect x="535.16" y="2045.62" width="18.95" height="22.87" fill="#eedfd7"/>
<rect x="99.4" y="2068.48" width="18.95" height="22.87" fill="#86bddc"/>
<rect x="118.35" y="2068.48" width="18.95" height="22.87" fill="#a5cee5"/>
<rect x="137.29" y="2068.48" width="18.95" height="22.87" fill="#f9d9c7"/>
<rect x="156.24" y="2068.48" width="18.95" height="22.87" fill="#b5d6e9"/>
<rect x="175.18" y="2068.48" width="18.95" height="22.87" fill="#ef9979"/>
<rect x="194.13" y="2068.48" width="18.95" height="22.87" fill="#f8bea1"/>
<rect x="213.08" y="2068.48" width="18.95" height="22.87" fill="#d4e5ef"/>
<rect x="232.02" y="2068.48" width="18.95" height="22.87" fill="#82bbdb"/>
<rect x="250.97" y="2068.48" width="18.95" height="22.87" fill="#fad1bb"/>
<rect x="269.91" y="2068.48" width="18.95" height="22.87" fill="#e8e3e0"/>
<rect x="288.86" y="2068.48" width="18.95" height="22.87" fill="#b5d6e9"/>
<rect x="307.81" y="2068.48" width="18.95" height="22.87" fill="#a5cee5"/>
<rect x="326.75" y="2068.48" width="18.95" height="22.87" fill="#5fa4d0"/>
<rect x="345.7" y="2068.48" width="18.95" height="22.87" fill="#a5cee5"/>
<rect x="364.64" y="2068.48" width="18.95" height="22.87" fill="#e4e4e4"/>
<rect x="383.59" y="2068.48" width="18.95" height="22.87" fill="#dce4ea"/>
<rect x="402.54" y="2068.48" width="18.95" height="22.87" fill="#fbd5c0"/>
<rect x="421.48" y="2068.48" width="18.95" height="22.87" fill="#f7ba9c"/>
<rect x="440.43" y="2068.48" width="18.95" height="22.87" fill="#ef9979"/>
<rect x="459.37" y="2068.48" width="18.95" height="22.87" fill="#ea8c6e"/>
<rect x="478.32" y="2068.48" width="18.95" height="22.87" fill="#f9cbb2"/>
<rect x="497.27" y="2068.48" width="18.95" height="22.87" fill="#f2a384"/>
<rect x="516.21" y="2068.48" width="18.95" height="22.87" fill="#fbd5c0"/>
<rect x="535.16" y="2068.48" width="18.95" height="22.87" fill="#e8e3e0"/>
<rect x="99.4" y="2091.35" width="18.95" height="22.87" fill="#90c3df"/>
<rect x="118.35" y="2091.35" width="18.95" height="22.87" fill="#cee3ef"/>
<rect x="137.29" y="2091.35" width="18.95" height="22.87" fill="#e4e4e4"/>
<rect x="156.24" y="2091.35" width="18.95" height="22.87" fill="#7fb9da"/>
<rect x="175.18" y="2091.35" width="18.95" height="22.87" fill="#f2a384"/>
<rect x="194.13" y="2091.35" width="18.95" height="22.87" fill="#cee3ef"/>
<rect x="213.08" y="2091.35" width="18.95" height="22.87" fill="#a5cee5"/>
<rect x="232.02" y="2091.35" width="18.95" height="22.87" fill="#b9d8ea"/>
<rect x="250.97" y="2091.35" width="18.95" height="22.87" fill="#acd2e7"/>
<rect x="269.91" y="2091.35" width="18.95" height="22.87" fill="#f7ba9c"/>
<rect x="288.86" y="2091.35" width="18.95" height="22.87" fill="#f9d9c7"/>
<rect x="307.81" y="2091.35" width="18.95" height="22.87" fill="#bddaeb"/>
<rect x="326.75" y="2091.35" width="18.95" height="22.87" fill="#78b4d8"/>
<rect x="345.7" y="2091.35" width="18.95" height="22.87" fill="#86bddc"/>
<rect x="364.64" y="2091.35" width="18.95" height="22.87" fill="#e4e4e4"/>
<rect x="383.59" y="2091.35" width="18.95" height="22.87" fill="#c5dfed"/>
<rect x="402.54" y="2091.35" width="18.95" height="22.87" fill="#ef9979"/>
<rect x="421.48" y="2091.35" width="18.95" height="22.87" fill="#eedfd7"/>
<rect x="440.43" y="2091.35" width="18.95" height="22.87" fill="#f9c4aa"/>
<rect x="459.37" y="2091.35" width="18.95" height="22.87" fill="#ea8c6e"/>
<rect x="478.32" y="2091.35" width="18.95" height="22.87" fill="#e9896b"/>
<rect x="497.27" y="2091.35" width="18.95" height="22.87" fill="#e9896b"/>
<rect x="516.21" y="2091.35" width="18.95" height="22.87" fill="#f7daca"/>
<rect x="535.16" y="2091.35" width="18.95" height="22.87" fill="#fbd5c0"/>
<rect x="99.4" y="2114.21" width="18.95" height="22.87" fill="#b5d6e9"/>
<rect x="118.35" y="2114.21" width="18.95" height="22.87" fill="#a1cce4"/>
<rect x="137.29" y="2114.21" width="18.95" height="22.87" fill="#e2e4e6"/>
<rect x="156.24" y="2114.21" width="18.95" height="22.87" fill="#78b4d8"/>
<rect x="175.18" y="2114.21" width="18.95" height="22.87" fill="#f9c8ae"/>
<rect x="194.13" y="2114.21" width="18.95" height="22.87" fill="#c1ddec"/>
<rect x="213.08" y="2114.21" width="18.95" height="22.87" fill="#f9d9c7"/>
<rect x="232.02" y="2114.21" width="18.95" height="22.87" fill="#e6e4e3"/>
<rect x="250.97" y="2114.21" width="18.95" height="22.87" fill="#acd2e7"/>
<rect x="269.91" y="2114.21" width="18.95" height="22.87" fill="#f1a080"/>
<rect x="288.86" y="2114.21" width="18.95" height="22.87" fill="#cee3ef"/>
<rect x="307.81" y="2114.21" width="18.95" height="22.87" fill="#9ecae3"/>
<rect x="326.75" y="2114.21" width="18.95" height="22.87" fill="#d2e5f0"/>
<rect x="345.7" y="2114.21" width="18.95" height="22.87" fill="#82bbdb"/>
<rect x="364.64" y="2114.21" width="18.95" height="22.87" fill="#f9c8ae"/>
<rect x="383.59" y="2114.21" width="18.95" height="22.87" fill="#97c6e1"/>
<rect x="402.54" y="2114.21" width="18.95" height="22.87" fill="#e8e3e0"/>
<rect x="421.48" y="2114.21" width="18.95" height="22.87" fill="#ece0da"/>
<rect x="440.43" y="2114.21" width="18.95" height="22.87" fill="#fad1bb"/>
<rect x="459.37" y="2114.21" width="18.95" height="22.87" fill="#c93c37"/>
<rect x="478.32" y="2114.21" width="18.95" height="22.87" fill="#e4e4e4"/>
<rect x="497.27" y="2114.21" width="18.95" height="22.87" fill="#eb8f71"/>
<rect x="516.21" y="2114.21" width="18.95" height="22.87" fill="#f09d7d"/>
<rect x="535.16" y="2114.21" width="18.95" height="22.87" fill="#f8bea1"/>
<rect x="99.4" y="2137.08" width="18.95" height="22.87" fill="#c1ddec"/>
<rect x="118.35" y="2137.08" width="18.95" height="22.87" fill="#6eaed5"/>
<rect x="137.29" y="2137.08" width="18.95" height="22.87" fill="#a5cee5"/>
<rect x="156.24" y="2137.08" width="18.95" height="22.87" fill="#ece0da"/>
<rect x="175.18" y="2137.08" width="18.95" height="22.87" fill="#e68266"/>
<rect x="194.13" y="2137.08" width="18.95" height="22.87" fill="#f9cbb2"/>
<rect x="213.08" y="2137.08" width="18.95" height="22.87" fill="#86bddc"/>
<rect x="232.02" y="2137.08" width="18.95" height="22.87" fill="#9ecae3"/>
<rect x="250.97" y="2137.08" width="18.95" height="22.87" fill="#a1cce4"/>
<rect x="269.91" y="2137.08" width="18.95" height="22.87" fill="#f9c8ae"/>
<rect x="288.86" y="2137.08" width="18.95" height="22.87" fill="#d2e5f0"/>
<rect x="307.81" y="2137.08" width="18.95" height="22.87" fill="#faceb7"/>
<rect x="326.75" y="2137.08" width="18.95" height="22.87" fill="#a1cce4"/>
<rect x="345.7" y="2137.08" width="18.95" height="22.87" fill="#d2e5f0"/>
<rect x="364.64" y="2137.08" width="18.95" height="22.87" fill="#f9c4aa"/>
<rect x="383.59" y="2137.08" width="18.95" height="22.87" fill="#86bddc"/>
<rect x="402.54" y="2137.08" width="18.95" height="22.87" fill="#f7daca"/>
<rect x="421.48" y="2137.08" width="18.95" height="22.87" fill="#eae2dd"/>
<rect x="440.43" y="2137.08" width="18.95" height="22.87" fill="#f7ba9c"/>
<rect x="459.37" y="2137.08" width="18.95" height="22.87" fill="#f4ad8e"/>
<rect x="478.32" y="2137.08" width="18.95" height="22.87" fill="#f9d9c7"/>
<rect x="497.27" y="2137.08" width="18.95" height="22.87" fill="#f2a687"/>
<rect x="516.21" y="2137.08" width="18.95" height="22.87" fill="#e9896b"/>
<rect x="535.16" y="2137.08" width="18.95" height="22.87" fill="#f3ddd0"/>
<rect x="99.4" y="2159.95" width="18.95" height="22.87" fill="#82bbdb"/>
<rect x="118.35" y="2159.95" width="18.95" height="22.87" fill="#71b0d6"/>
<rect x="137.29" y="2159.95" width="18.95" height="22.87" fill="#cee3ef"/>
<rect x="156.24" y="2159.95" width="18.95" height="22.87" fill="#7cb6d9"/>
<rect x="175.18" y="2159.95" width="18.95" height="22.87" fill="#f5dccd"/>
<rect x="194.13" y="2159.95" width="18.95" height="22.87" fill="#ed9373"/>
<rect x="213.08" y="2159.95" width="18.95" height="22.87" fill="#f2a384"/>
<rect x="232.02" y="2159.95" width="18.95" height="22.87" fill="#b0d4e8"/>
<rect x="250.97" y="2159.95" width="18.95" height="22.87" fill="#9ecae3"/>
<rect x="269.91" y="2159.95" width="18.95" height="22.87" fill="#f7b798"/>
<rect x="288.86" y="2159.95" width="18.95" height="22.87" fill="#ece0da"/>
<rect x="307.81" y="2159.95" width="18.95" height="22.87" fill="#f0ded4"/>
<rect x="326.75" y="2159.95" width="18.95" height="22.87" fill="#89bfdd"/>
<rect x="345.7" y="2159.95" width="18.95" height="22.87" fill="#b5d6e9"/>
<rect x="364.64" y="2159.95" width="18.95" height="22.87" fill="#e8e3e0"/>
<rect x="383.59" y="2159.95" width="18.95" height="22.87" fill="#c1ddec"/>
<rect x="402.54" y="2159.95" width="18.95" height="22.87" fill="#ed9373"/>
<rect x="421.48" y="2159.95" width="18.95" height="22.87" fill="#f8bea1"/>
<rect x="440.43" y="2159.95" width="18.95" height="22.87" fill="#f7ba9c"/>
<rect x="459.37" y="2159.95" width="18.95" height="22.87" fill="#e9896b"/>
<rect x="478.32" y="2159.95" width="18.95" height="22.87" fill="#fbd8c4"/>
<rect x="497.27" y="2159.95" width="18.95" height="22.87" fill="#dce4ea"/>
<rect x="516.21" y="2159.95" width="18.95" height="22.87" fill="#f7ba9c"/>
<rect x="535.16" y="2159.95" width="18.95" height="22.87" fill="#dee4e8"/>
<rect x="99.4" y="2182.81" width="18.95" height="22.87" fill="#5fa4d0"/>
<rect x="118.35" y="2182.81" width="18.95" height="22.87" fill="#4a94c6"/>
<rect x="137.29" y="2182.81" width="18.95" height="22.87" fill="#f9cbb2"/>
<rect x="156.24" y="2182.81" width="18.95" height="22.87" fill="#86bddc"/>
<rect x="175.18" y="2182.81" width="18.95" height="22.87" fill="#eedfd7"/>
<rect x="194.13" y="2182.81" width="18.95" height="22.87" fill="#ed9373"/>
<rect x="213.08" y="2182.81" width="18.95" height="22.87" fill="#dae5eb"/>
<rect x="232.02" y="2182.81" width="18.95" height="22.87" fill="#d6e5ed"/>
<rect x="250.97" y="2182.81" width="18.95" height="22.87" fill="#f6b495"/>
<rect x="269.91" y="2182.81" width="18.95" height="22.87" fill="#a5cee5"/>
<rect x="288.86" y="2182.81" width="18.95" height="22.87" fill="#c5dfed"/>
<rect x="307.81" y="2182.81" width="18.95" height="22.87" fill="#d4e5ef"/>
<rect x="326.75" y="2182.81" width="18.95" height="22.87" fill="#b9d8ea"/>
<rect x="345.7" y="2182.81" width="18.95" height="22.87" fill="#f9d9c7"/>
<rect x="364.64" y="2182.81" width="18.95" height="22.87" fill="#a5cee5"/>
<rect x="383.59" y="2182.81" width="18.95" height="22.87" fill="#c5dfed"/>
<rect x="402.54" y="2182.81" width="18.95" height="22.87" fill="#f8bea1"/>
<rect x="421.48" y="2182.81" width="18.95" height="22.87" fill="#f9cbb2"/>
<rect x="440.43" y="2182.81" width="18.95" height="22.87" fill="#f2a384"/>
<rect x="459.37" y="2182.81" width="18.95" height="22.87" fill="#f8bea1"/>
<rect x="478.32" y="2182.81" width="18.95" height="22.87" fill="#f7ba9c"/>
<rect x="497.27" y="2182.81" width="18.95" height="22.87" fill="#f2a687"/>
<rect x="516.21" y="2182.81" width="18.95" height="22.87" fill="#fbd5c0"/>
<rect x="535.16" y="2182.81" width="18.95" height="22.87" fill="#f9d9c7"/>
<rect x="99.4" y="2205.68" width="18.95" height="22.87" fill="#a5cee5"/>
<rect x="118.35" y="2205.68" width="18.95" height="22.87" fill="#a5cee5"/>
<rect x="137.29" y="2205.68" width="18.95" height="22.87" fill="#fbd5c0"/>
<rect x="156.24" y="2205.68" width="18.95" height="22.87" fill="#d6e5ed"/>
<rect x="175.18" y="2205.68" width="18.95" height="22.87" fill="#eae2dd"/>
<rect x="194.13" y="2205.68" width="18.95" height="22.87" fill="#f8c1a5"/>
<rect x="213.08" y="2205.68" width="18.95" height="22.87" fill="#ece0da"/>
<rect x="232.02" y="2205.68" width="18.95" height="22.87" fill="#ece0da"/>
<rect x="250.97" y="2205.68" width="18.95" height="22.87" fill="#f7b798"/>
<rect x="269.91" y="2205.68" width="18.95" height="22.87" fill="#539aca"/>
<rect x="288.86" y="2205.68" width="18.95" height="22.87" fill="#e4e4e4"/>
<rect x="307.81" y="2205.68" width="18.95" height="22.87" fill="#f5dccd"/>
<rect x="326.75" y="2205.68" width="18.95" height="22.87" fill="#d4e5ef"/>
<rect x="345.7" y="2205.68" width="18.95" height="22.87" fill="#f9c4aa"/>
<rect x="364.64" y="2205.68" width="18.95" height="22.87" fill="#3783bc"/>
<rect x="383.59" y="2205.68" width="18.95" height="22.87" fill="#3783bc"/>
<rect x="402.54" y="2205.68" width="18.95" height="22.87" fill="#fad1bb"/>
<rect x="421.48" y="2205.68" width="18.95" height="22.87" fill="#f9cbb2"/>
<rect x="440.43" y="2205.68" width="18.95" height="22.87" fill="#f7ba9c"/>
<rect x="459.37" y="2205.68" width="18.95" height="22.87" fill="#fbd5c0"/>
<rect x="478.32" y="2205.68" width="18.95" height="22.87" fill="#f9cbb2"/>
<rect x="497.27" y="2205.68" width="18.95" height="22.87" fill="#f7b798"/>
<rect x="516.21" y="2205.68" width="18.95" height="22.87" fill="#fbd5c0"/>
<rect x="535.16" y="2205.68" width="18.95" height="22.87" fill="#f7ba9c"/>
<rect x="99.4" y="2228.54" width="18.95" height="22.87" fill="#a1cce4"/>
<rect x="118.35" y="2228.54" width="18.95" height="22.87" fill="#9ac8e2"/>
<rect x="137.29" y="2228.54" width="18.95" height="22.87" fill="#fbd5c0"/>
<rect x="156.24" y="2228.54" width="18.95" height="22.87" fill="#acd2e7"/>
<rect x="175.18" y="2228.54" width="18.95" height="22.87" fill="#c5dfed"/>
<rect x="194.13" y="2228.54" width="18.95" height="22.87" fill="#f8c1a5"/>
<rect x="213.08" y="2228.54" width="18.95" height="22.87" fill="#fbd8c4"/>
<rect x="232.02" y="2228.54" width="18.95" height="22.87" fill="#f9cbb2"/>
<rect x="250.97" y="2228.54" width="18.95" height="22.87" fill="#e47c60"/>
<rect x="269.91" y="2228.54" width="18.95" height="22.87" fill="#3078b5"/>
<rect x="288.86" y="2228.54" width="18.95" height="22.87" fill="#c1ddec"/>
<rect x="307.81" y="2228.54" width="18.95" height="22.87" fill="#eae2dd"/>
<rect x="326.75" y="2228.54" width="18.95" height="22.87" fill="#4e97c8"/>
<rect x="345.7" y="2228.54" width="18.95" height="22.87" fill="#e2e4e6"/>
<rect x="364.64" y="2228.54" width="18.95" height="22.87" fill="#e6e4e3"/>
<rect x="383.59" y="2228.54" width="18.95" height="22.87" fill="#e4e4e4"/>
<rect x="402.54" y="2228.54" width="18.95" height="22.87" fill="#faceb7"/>
<rect x="421.48" y="2228.54" width="18.95" height="22.87" fill="#f5b091"/>
<rect x="440.43" y="2228.54" width="18.95" height="22.87" fill="#f7b798"/>
<rect x="459.37" y="2228.54" width="18.95" height="22.87" fill="#f9d9c7"/>
<rect x="478.32" y="2228.54" width="18.95" height="22.87" fill="#f5dccd"/>
<rect x="497.27" y="2228.54" width="18.95" height="22.87" fill="#fbd5c0"/>
<rect x="516.21" y="2228.54" width="18.95" height="22.87" fill="#e4e4e4"/>
<rect x="535.16" y="2228.54" width="18.95" height="22.87" fill="#f6b495"/>
</g>
<text transform="translate(558.4,1469.73) scale(1.07,1)" x="0" y="0" font-size="20" font-family="'Liberation Sans', Arial, sans-serif" fill="#111">2-Phospho-D-glycer</text>
<text transform="translate(558.4,1492.6) scale(1.07,1)" x="0" y="0" font-size="20" font-family="'Liberation Sans', Arial, sans-serif" fill="#111">Lumichrome</text>
<text transform="translate(558.4,1515.46) scale(1.07,1)" x="0" y="0" font-size="20" font-family="'Liberation Sans', Arial, sans-serif" fill="#111">1-methylinosine</text>
<text transform="translate(558.4,1538.33) scale(1.07,1)" x="0" y="0" font-size="20" font-family="'Liberation Sans', Arial, sans-serif" fill="#111">L-Methionine</text>
<text transform="translate(558.4,1561.2) scale(1.07,1)" x="0" y="0" font-size="20" font-family="'Liberation Sans', Arial, sans-serif" fill="#111">3-Hydroxybutyric A</text>
<text transform="translate(558.4,1584.06) scale(1.07,1)" x="0" y="0" font-size="20" font-family="'Liberation Sans', Arial, sans-serif" fill="#111">3-hydroxymethylglu</text>
<text transform="translate(558.4,1606.93) scale(1.07,1)" x="0" y="0" font-size="20" font-family="'Liberation Sans', Arial, sans-serif" fill="#111">N6-methyladenosine</text>
<text transform="translate(558.4,1629.79) scale(1.07,1)" x="0" y="0" font-size="20" font-family="'Liberation Sans', Arial, sans-serif" fill="#111">Adenosine</text>
<text transform="translate(558.4,1652.66) scale(1.07,1)" x="0" y="0" font-size="20" font-family="'Liberation Sans', Arial, sans-serif" fill="#111">Vitamin B9</text>
<text transform="translate(558.4,1675.53) scale(1.07,1)" x="0" y="0" font-size="20" font-family="'Liberation Sans', Arial, sans-serif" fill="#111">S-(5-Adenosy)-L-Ho</text>
<text transform="translate(558.4,1698.39) scale(1.07,1)" x="0" y="0" font-size="20" font-family="'Liberation Sans', Arial, sans-serif" fill="#111">Urocanic acid</text>
<text transform="translate(558.4,1721.26) scale(1.07,1)" x="0" y="0" font-size="20" font-family="'Liberation Sans', Arial, sans-serif" fill="#111">Oxypurinol</text>
<text transform="translate(558.4,1744.12) scale(1.07,1)" x="0" y="0" font-size="20" font-family="'Liberation Sans', Arial, sans-serif" fill="#111">Ethylmalonic acid</text>
<text transform="translate(558.4,1766.99) scale(1.07,1)" x="0" y="0" font-size="20" font-family="'Liberation Sans', Arial, sans-serif" fill="#111">L-Homocitrulline</text>
<text transform="translate(558.4,1789.86) scale(1.07,1)" x="0" y="0" font-size="20" font-family="'Liberation Sans', Arial, sans-serif" fill="#111">Urea</text>
<text transform="translate(558.4,1812.72) scale(1.07,1)" x="0" y="0" font-size="20" font-family="'Liberation Sans', Arial, sans-serif" fill="#111">Hexanoyl Glycine</text>
<text transform="translate(558.4,1835.59) scale(1.07,1)" x="0" y="0" font-size="20" font-family="'Liberation Sans', Arial, sans-serif" fill="#111">Xanthurenic Acid</text>
<text transform="translate(558.4,1858.45) scale(1.07,1)" x="0" y="0" font-size="20" font-family="'Liberation Sans', Arial, sans-serif" fill="#111">Allantoin</text>
<text transform="translate(558.4,1881.32) scale(1.07,1)" x="0" y="0" font-size="20" font-family="'Liberation Sans', Arial, sans-serif" fill="#111">Dihydroxyacetone p</text>
<text transform="translate(558.4,1904.19) scale(1.07,1)" x="0" y="0" font-size="20" font-family="'Liberation Sans', Arial, sans-serif" fill="#111">IMP</text>
<text transform="translate(558.4,1927.05) scale(1.07,1)" x="0" y="0" font-size="20" font-family="'Liberation Sans', Arial, sans-serif" fill="#111">Xyluose-5-phosphat</text>
<text transform="translate(558.4,1949.92) scale(1.07,1)" x="0" y="0" font-size="20" font-family="'Liberation Sans', Arial, sans-serif" fill="#111">AMP</text>
<text transform="translate(558.4,1972.79) scale(1.07,1)" x="0" y="0" font-size="20" font-family="'Liberation Sans', Arial, sans-serif" fill="#111">UMP</text>
<text transform="translate(558.4,1995.65) scale(1.07,1)" x="0" y="0" font-size="20" font-family="'Liberation Sans', Arial, sans-serif" fill="#111">Sebacic acid</text>
<text transform="translate(558.4,2018.52) scale(1.07,1)" x="0" y="0" font-size="20" font-family="'Liberation Sans', Arial, sans-serif" fill="#111">Adenine</text>
<text transform="translate(558.4,2041.38) scale(1.07,1)" x="0" y="0" font-size="20" font-family="'Liberation Sans', Arial, sans-serif" fill="#111">S-adenosyl-L-methi</text>
<text transform="translate(558.4,2064.25) scale(1.07,1)" x="0" y="0" font-size="20" font-family="'Liberation Sans', Arial, sans-serif" fill="#111">5-Methylcytosine</text>
<text transform="translate(558.4,2087.11) scale(1.07,1)" x="0" y="0" font-size="20" font-family="'Liberation Sans', Arial, sans-serif" fill="#111">Hypotaurine</text>
<text transform="translate(558.4,2109.98) scale(1.07,1)" x="0" y="0" font-size="20" font-family="'Liberation Sans', Arial, sans-serif" fill="#111">5'-Cytidylic acid</text>
<text transform="translate(558.4,2132.85) scale(1.07,1)" x="0" y="0" font-size="20" font-family="'Liberation Sans', Arial, sans-serif" fill="#111">Trans-4-Hydroxy-L-</text>
<text transform="translate(558.4,2155.71) scale(1.07,1)" x="0" y="0" font-size="20" font-family="'Liberation Sans', Arial, sans-serif" fill="#111">Guanosine</text>
<text transform="translate(558.4,2178.58) scale(1.07,1)" x="0" y="0" font-size="20" font-family="'Liberation Sans', Arial, sans-serif" fill="#111">2-Amino-2-deoxyman</text>
<text transform="translate(558.4,2201.44) scale(1.07,1)" x="0" y="0" font-size="20" font-family="'Liberation Sans', Arial, sans-serif" fill="#111">D-Alanyl-D-Alanine</text>
<text transform="translate(558.4,2224.31) scale(1.07,1)" x="0" y="0" font-size="20" font-family="'Liberation Sans', Arial, sans-serif" fill="#111">N-Glycyl-L-Leucine</text>
<text transform="translate(558.4,2247.18) scale(1.07,1)" x="0" y="0" font-size="20" font-family="'Liberation Sans', Arial, sans-serif" fill="#111">L-Asparagine</text>
<text transform="translate(101.47,2257.8) rotate(90) scale(1.05,1)" x="0" y="0" font-size="21.3" font-family="'Liberation Sans', Arial, sans-serif" fill="#111">Control-1</text>
<text transform="translate(120.42,2257.8) rotate(90) scale(1.05,1)" x="0" y="0" font-size="21.3" font-family="'Liberation Sans', Arial, sans-serif" fill="#111">Control-2</text>
<text transform="translate(139.37,2257.8) rotate(90) scale(1.05,1)" x="0" y="0" font-size="21.3" font-family="'Liberation Sans', Arial, sans-serif" fill="#111">Control-3</text>
<text transform="translate(158.31,2257.8) rotate(90) scale(1.05,1)" x="0" y="0" font-size="21.3" font-family="'Liberation Sans', Arial, sans-serif" fill="#111">Control-4</text>
<text transform="translate(177.26,2257.8) rotate(90) scale(1.05,1)" x="0" y="0" font-size="21.3" font-family="'Liberation Sans', Arial, sans-serif" fill="#111">Control-5</text>
<text transform="translate(196.2,2257.8) rotate(90) scale(1.05,1)" x="0" y="0" font-size="21.3" font-family="'Liberation Sans', Arial, sans-serif" fill="#111">Control-6</text>
<text transform="translate(215.15,2257.8) rotate(90) scale(1.05,1)" x="0" y="0" font-size="21.3" font-family="'Liberation Sans', Arial, sans-serif" fill="#111">Control-7</text>
<text transform="translate(234.09,2257.8) rotate(90) scale(1.05,1)" x="0" y="0" font-size="21.3" font-family="'Liberation Sans', Arial, sans-serif" fill="#111">Control-8</text>
<text transform="translate(253.04,2257.8) rotate(90) scale(1.05,1)" x="0" y="0" font-size="21.3" font-family="'Liberation Sans', Arial, sans-serif" fill="#111">ILWEH-1</text>
<text transform="translate(271.99,2257.8) rotate(90) scale(1.05,1)" x="0" y="0" font-size="21.3" font-family="'Liberation Sans', Arial, sans-serif" fill="#111">ILWEH-2</text>
<text transform="translate(290.93,2257.8) rotate(90) scale(1.05,1)" x="0" y="0" font-size="21.3" font-family="'Liberation Sans', Arial, sans-serif" fill="#111">ILWEH-3</text>
<text transform="translate(309.88,2257.8) rotate(90) scale(1.05,1)" x="0" y="0" font-size="21.3" font-family="'Liberation Sans', Arial, sans-serif" fill="#111">ILWEH-4</text>
<text transform="translate(328.83,2257.8) rotate(90) scale(1.05,1)" x="0" y="0" font-size="21.3" font-family="'Liberation Sans', Arial, sans-serif" fill="#111">ILWEH-5</text>
<text transform="translate(347.77,2257.8) rotate(90) scale(1.05,1)" x="0" y="0" font-size="21.3" font-family="'Liberation Sans', Arial, sans-serif" fill="#111">ILWEH-6</text>
<text transform="translate(366.72,2257.8) rotate(90) scale(1.05,1)" x="0" y="0" font-size="21.3" font-family="'Liberation Sans', Arial, sans-serif" fill="#111">ILWEH-7</text>
<text transform="translate(385.66,2257.8) rotate(90) scale(1.05,1)" x="0" y="0" font-size="21.3" font-family="'Liberation Sans', Arial, sans-serif" fill="#111">ILWEH-8</text>
<text transform="translate(404.61,2257.8) rotate(90) scale(1.05,1)" x="0" y="0" font-size="21.3" font-family="'Liberation Sans', Arial, sans-serif" fill="#111">Model-1</text>
<text transform="translate(423.56,2257.8) rotate(90) scale(1.05,1)" x="0" y="0" font-size="21.3" font-family="'Liberation Sans', Arial, sans-serif" fill="#111">Model-2</text>
<text transform="translate(442.5,2257.8) rotate(90) scale(1.05,1)" x="0" y="0" font-size="21.3" font-family="'Liberation Sans', Arial, sans-serif" fill="#111">Model-3</text>
<text transform="translate(461.45,2257.8) rotate(90) scale(1.05,1)" x="0" y="0" font-size="21.3" font-family="'Liberation Sans', Arial, sans-serif" fill="#111">Model-4</text>
<text transform="translate(480.39,2257.8) rotate(90) scale(1.05,1)" x="0" y="0" font-size="21.3" font-family="'Liberation Sans', Arial, sans-serif" fill="#111">Model-5</text>
<text transform="translate(499.34,2257.8) rotate(90) scale(1.05,1)" x="0" y="0" font-size="21.3" font-family="'Liberation Sans', Arial, sans-serif" fill="#111">Model-6</text>
<text transform="translate(518.29,2257.8) rotate(90) scale(1.05,1)" x="0" y="0" font-size="21.3" font-family="'Liberation Sans', Arial, sans-serif" fill="#111">Model-7</text>
<text transform="translate(537.23,2257.8) rotate(90) scale(1.05,1)" x="0" y="0" font-size="21.3" font-family="'Liberation Sans', Arial, sans-serif" fill="#111">Model-8</text>
<line x1="95.6" y1="1462.53" x2="95.6" y2="1485.4" stroke="#000" stroke-width="1.5"/>
<line x1="95.6" y1="1462.53" x2="99.4" y2="1462.53" stroke="#000" stroke-width="1.5"/>
<line x1="95.6" y1="1485.4" x2="99.4" y2="1485.4" stroke="#000" stroke-width="1.5"/>
<line x1="94.5" y1="1473.97" x2="94.5" y2="1508.26" stroke="#000" stroke-width="1.5"/>
<line x1="94.5" y1="1473.97" x2="95.6" y2="1473.97" stroke="#000" stroke-width="1.5"/>
<line x1="94.5" y1="1508.26" x2="99.4" y2="1508.26" stroke="#000" stroke-width="1.5"/>
<line x1="93" y1="1491.12" x2="93" y2="1531.13" stroke="#000" stroke-width="1.5"/>
<line x1="93" y1="1491.12" x2="94.5" y2="1491.12" stroke="#000" stroke-width="1.5"/>
<line x1="93" y1="1531.13" x2="99.4" y2="1531.13" stroke="#000" stroke-width="1.5"/>
<line x1="95.6" y1="1554" x2="95.6" y2="1576.86" stroke="#000" stroke-width="1.5"/>
<line x1="95.6" y1="1554" x2="99.4" y2="1554" stroke="#000" stroke-width="1.5"/>
<line x1="95.6" y1="1576.86" x2="99.4" y2="1576.86" stroke="#000" stroke-width="1.5"/>
<line x1="91" y1="1511.12" x2="91" y2="1565.43" stroke="#000" stroke-width="1.5"/>
<line x1="91" y1="1511.12" x2="93" y2="1511.12" stroke="#000" stroke-width="1.5"/>
<line x1="91" y1="1565.43" x2="95.6" y2="1565.43" stroke="#000" stroke-width="1.5"/>
<line x1="98.3" y1="1599.73" x2="98.3" y2="1622.59" stroke="#000" stroke-width="1.5"/>
<line x1="98.3" y1="1599.73" x2="99.4" y2="1599.73" stroke="#000" stroke-width="1.5"/>
<line x1="98.3" y1="1622.59" x2="99.4" y2="1622.59" stroke="#000" stroke-width="1.5"/>
<line x1="88.3" y1="1538.28" x2="88.3" y2="1611.16" stroke="#000" stroke-width="1.5"/>
<line x1="88.3" y1="1538.28" x2="91" y2="1538.28" stroke="#000" stroke-width="1.5"/>
<line x1="88.3" y1="1611.16" x2="98.3" y2="1611.16" stroke="#000" stroke-width="1.5"/>
<line x1="95" y1="1645.46" x2="95" y2="1668.33" stroke="#000" stroke-width="1.5"/>
<line x1="95" y1="1645.46" x2="99.4" y2="1645.46" stroke="#000" stroke-width="1.5"/>
<line x1="95" y1="1668.33" x2="99.4" y2="1668.33" stroke="#000" stroke-width="1.5"/>
<line x1="95" y1="1691.19" x2="95" y2="1714.06" stroke="#000" stroke-width="1.5"/>
<line x1="95" y1="1691.19" x2="99.4" y2="1691.19" stroke="#000" stroke-width="1.5"/>
<line x1="95" y1="1714.06" x2="99.4" y2="1714.06" stroke="#000" stroke-width="1.5"/>
<line x1="91.8" y1="1656.89" x2="91.8" y2="1702.63" stroke="#000" stroke-width="1.5"/>
<line x1="91.8" y1="1656.89" x2="95" y2="1656.89" stroke="#000" stroke-width="1.5"/>
<line x1="91.8" y1="1702.63" x2="95" y2="1702.63" stroke="#000" stroke-width="1.5"/>
<line x1="84.9" y1="1574.72" x2="84.9" y2="1679.76" stroke="#000" stroke-width="1.5"/>
<line x1="84.9" y1="1574.72" x2="88.3" y2="1574.72" stroke="#000" stroke-width="1.5"/>
<line x1="84.9" y1="1679.76" x2="91.8" y2="1679.76" stroke="#000" stroke-width="1.5"/>
<line x1="95.5" y1="1736.92" x2="95.5" y2="1759.79" stroke="#000" stroke-width="1.5"/>
<line x1="95.5" y1="1736.92" x2="99.4" y2="1736.92" stroke="#000" stroke-width="1.5"/>
<line x1="95.5" y1="1759.79" x2="99.4" y2="1759.79" stroke="#000" stroke-width="1.5"/>
<line x1="93" y1="1748.36" x2="93" y2="1782.66" stroke="#000" stroke-width="1.5"/>
<line x1="93" y1="1748.36" x2="95.5" y2="1748.36" stroke="#000" stroke-width="1.5"/>
<line x1="93" y1="1782.66" x2="99.4" y2="1782.66" stroke="#000" stroke-width="1.5"/>
<line x1="95.5" y1="1805.52" x2="95.5" y2="1828.39" stroke="#000" stroke-width="1.5"/>
<line x1="95.5" y1="1805.52" x2="99.4" y2="1805.52" stroke="#000" stroke-width="1.5"/>
<line x1="95.5" y1="1828.39" x2="99.4" y2="1828.39" stroke="#000" stroke-width="1.5"/>
<line x1="91.5" y1="1765.51" x2="91.5" y2="1816.96" stroke="#000" stroke-width="1.5"/>
<line x1="91.5" y1="1765.51" x2="93" y2="1765.51" stroke="#000" stroke-width="1.5"/>
<line x1="91.5" y1="1816.96" x2="95.5" y2="1816.96" stroke="#000" stroke-width="1.5"/>
<line x1="89.3" y1="1791.23" x2="89.3" y2="1851.25" stroke="#000" stroke-width="1.5"/>
<line x1="89.3" y1="1791.23" x2="91.5" y2="1791.23" stroke="#000" stroke-width="1.5"/>
<line x1="89.3" y1="1851.25" x2="99.4" y2="1851.25" stroke="#000" stroke-width="1.5"/>
<line x1="73.1" y1="1627.24" x2="73.1" y2="1821.24" stroke="#000" stroke-width="1.5"/>
<line x1="73.1" y1="1627.24" x2="84.9" y2="1627.24" stroke="#000" stroke-width="1.5"/>
<line x1="73.1" y1="1821.24" x2="89.3" y2="1821.24" stroke="#000" stroke-width="1.5"/>
<line x1="96.5" y1="1874.12" x2="96.5" y2="1896.99" stroke="#000" stroke-width="1.5"/>
<line x1="96.5" y1="1874.12" x2="99.4" y2="1874.12" stroke="#000" stroke-width="1.5"/>
<line x1="96.5" y1="1896.99" x2="99.4" y2="1896.99" stroke="#000" stroke-width="1.5"/>
<line x1="96" y1="1919.85" x2="96" y2="1942.72" stroke="#000" stroke-width="1.5"/>
<line x1="96" y1="1919.85" x2="99.4" y2="1919.85" stroke="#000" stroke-width="1.5"/>
<line x1="96" y1="1942.72" x2="99.4" y2="1942.72" stroke="#000" stroke-width="1.5"/>
<line x1="94.5" y1="1885.55" x2="94.5" y2="1931.29" stroke="#000" stroke-width="1.5"/>
<line x1="94.5" y1="1885.55" x2="96.5" y2="1885.55" stroke="#000" stroke-width="1.5"/>
<line x1="94.5" y1="1931.29" x2="96" y2="1931.29" stroke="#000" stroke-width="1.5"/>
<line x1="93.5" y1="1908.42" x2="93.5" y2="1965.59" stroke="#000" stroke-width="1.5"/>
<line x1="93.5" y1="1908.42" x2="94.5" y2="1908.42" stroke="#000" stroke-width="1.5"/>
<line x1="93.5" y1="1965.59" x2="99.4" y2="1965.59" stroke="#000" stroke-width="1.5"/>
<line x1="92.5" y1="1937" x2="92.5" y2="1988.45" stroke="#000" stroke-width="1.5"/>
<line x1="92.5" y1="1937" x2="93.5" y2="1937" stroke="#000" stroke-width="1.5"/>
<line x1="92.5" y1="1988.45" x2="99.4" y2="1988.45" stroke="#000" stroke-width="1.5"/>
<line x1="95.5" y1="2011.32" x2="95.5" y2="2034.18" stroke="#000" stroke-width="1.5"/>
<line x1="95.5" y1="2011.32" x2="99.4" y2="2011.32" stroke="#000" stroke-width="1.5"/>
<line x1="95.5" y1="2034.18" x2="99.4" y2="2034.18" stroke="#000" stroke-width="1.5"/>
<line x1="95.5" y1="2079.91" x2="95.5" y2="2102.78" stroke="#000" stroke-width="1.5"/>
<line x1="95.5" y1="2079.91" x2="99.4" y2="2079.91" stroke="#000" stroke-width="1.5"/>
<line x1="95.5" y1="2102.78" x2="99.4" y2="2102.78" stroke="#000" stroke-width="1.5"/>
<line x1="94" y1="2057.05" x2="94" y2="2091.35" stroke="#000" stroke-width="1.5"/>
<line x1="94" y1="2057.05" x2="99.4" y2="2057.05" stroke="#000" stroke-width="1.5"/>
<line x1="94" y1="2091.35" x2="95.5" y2="2091.35" stroke="#000" stroke-width="1.5"/>
<line x1="92.5" y1="2022.75" x2="92.5" y2="2074.2" stroke="#000" stroke-width="1.5"/>
<line x1="92.5" y1="2022.75" x2="95.5" y2="2022.75" stroke="#000" stroke-width="1.5"/>
<line x1="92.5" y1="2074.2" x2="94" y2="2074.2" stroke="#000" stroke-width="1.5"/>
<line x1="89.3" y1="1962.73" x2="89.3" y2="2048.47" stroke="#000" stroke-width="1.5"/>
<line x1="89.3" y1="1962.73" x2="92.5" y2="1962.73" stroke="#000" stroke-width="1.5"/>
<line x1="89.3" y1="2048.47" x2="92.5" y2="2048.47" stroke="#000" stroke-width="1.5"/>
<line x1="95.5" y1="2125.65" x2="95.5" y2="2148.51" stroke="#000" stroke-width="1.5"/>
<line x1="95.5" y1="2125.65" x2="99.4" y2="2125.65" stroke="#000" stroke-width="1.5"/>
<line x1="95.5" y1="2148.51" x2="99.4" y2="2148.51" stroke="#000" stroke-width="1.5"/>
<line x1="93" y1="2137.08" x2="93" y2="2171.38" stroke="#000" stroke-width="1.5"/>
<line x1="93" y1="2137.08" x2="95.5" y2="2137.08" stroke="#000" stroke-width="1.5"/>
<line x1="93" y1="2171.38" x2="99.4" y2="2171.38" stroke="#000" stroke-width="1.5"/>
<line x1="86.4" y1="2005.6" x2="86.4" y2="2154.23" stroke="#000" stroke-width="1.5"/>
<line x1="86.4" y1="2005.6" x2="89.3" y2="2005.6" stroke="#000" stroke-width="1.5"/>
<line x1="86.4" y1="2154.23" x2="93" y2="2154.23" stroke="#000" stroke-width="1.5"/>
<line x1="95.6" y1="2194.24" x2="95.6" y2="2217.11" stroke="#000" stroke-width="1.5"/>
<line x1="95.6" y1="2194.24" x2="99.4" y2="2194.24" stroke="#000" stroke-width="1.5"/>
<line x1="95.6" y1="2217.11" x2="99.4" y2="2217.11" stroke="#000" stroke-width="1.5"/>
<line x1="93.1" y1="2205.68" x2="93.1" y2="2239.98" stroke="#000" stroke-width="1.5"/>
<line x1="93.1" y1="2205.68" x2="95.6" y2="2205.68" stroke="#000" stroke-width="1.5"/>
<line x1="93.1" y1="2239.98" x2="99.4" y2="2239.98" stroke="#000" stroke-width="1.5"/>
<line x1="83" y1="2079.91" x2="83" y2="2222.83" stroke="#000" stroke-width="1.5"/>
<line x1="83" y1="2079.91" x2="86.4" y2="2079.91" stroke="#000" stroke-width="1.5"/>
<line x1="83" y1="2222.83" x2="93.1" y2="2222.83" stroke="#000" stroke-width="1.5"/>
<line x1="7.6" y1="1724.24" x2="7.6" y2="2151.37" stroke="#000" stroke-width="1.5"/>
<line x1="7.6" y1="1724.24" x2="73.1" y2="1724.24" stroke="#000" stroke-width="1.5"/>
<line x1="7.6" y1="2151.37" x2="83" y2="2151.37" stroke="#000" stroke-width="1.5"/>
<defs><linearGradient id="cbar" x1="0" y1="0" x2="0" y2="1"><stop offset="0" stop-color="#67001f"/><stop offset="0.12" stop-color="#bb2430"/><stop offset="0.24" stop-color="#d9694f"/><stop offset="0.37" stop-color="#f4a886"/><stop offset="0.44" stop-color="#f8cfba"/><stop offset="0.5" stop-color="#e2e0df"/><stop offset="0.63" stop-color="#b5d5e7"/><stop offset="0.76" stop-color="#5a9fcc"/><stop offset="0.88" stop-color="#2467aa"/><stop offset="1" stop-color="#0a3464"/></linearGradient></defs>
<rect x="775.1" y="1425.4" width="18.1" height="273.4" fill="url(#cbar)"/>
<text x="800.5" y="1462.8" font-size="16.3" font-family="'Liberation Sans', Arial, sans-serif" fill="#222">3</text>
<text x="800.5" y="1498.08" font-size="16.3" font-family="'Liberation Sans', Arial, sans-serif" fill="#222">2</text>
<text x="800.5" y="1533.36" font-size="16.3" font-family="'Liberation Sans', Arial, sans-serif" fill="#222">1</text>
<text x="800.5" y="1568.64" font-size="16.3" font-family="'Liberation Sans', Arial, sans-serif" fill="#222">0</text>
<text x="800.5" y="1603.92" font-size="16.3" font-family="'Liberation Sans', Arial, sans-serif" fill="#222">-1</text>
<text x="800.5" y="1639.2" font-size="16.3" font-family="'Liberation Sans', Arial, sans-serif" fill="#222">-2</text>
<text x="800.5" y="1674.48" font-size="16.3" font-family="'Liberation Sans', Arial, sans-serif" fill="#222">-3</text>
<text x="827" y="1437.3" font-size="17.5" font-family="'Liberation Sans', Arial, sans-serif" fill="#111" font-weight="bold">class</text>
<rect x="827" y="1445.0" width="23.8" height="23.9" fill="#e6194b" stroke="#999" stroke-width="1.3"/>
<rect x="827" y="1468.9" width="23.8" height="25.9" fill="#3cb44b" stroke="#999" stroke-width="1.3"/>
<rect x="827" y="1494.8" width="23.8" height="26.0" fill="#4363d8" stroke="#999" stroke-width="1.3"/>
<text x="856.7" y="1463.3" font-size="17.5" font-family="'Liberation Sans', Arial, sans-serif" fill="#111" textLength="56.8" lengthAdjust="spacingAndGlyphs">Control</text>
<text x="856.7" y="1488.5" font-size="17.5" font-family="'Liberation Sans', Arial, sans-serif" fill="#111">ILW-H</text>
<text x="856.7" y="1514" font-size="17.5" font-family="'Liberation Sans', Arial, sans-serif" fill="#111">Model</text>
<text transform="translate(926.5,1443.5) scale(1.03,1)" x="0" y="0" font-size="64.5" font-family="'Liberation Serif', 'Times New Roman', serif" font-weight="bold" fill="#000">F</text>
<line x1="1028.3" y1="1660.5" x2="1028.3" y2="2063.4" stroke="#222" stroke-width="1.6"/>
<line x1="1015" y1="2063.4" x2="1028.3" y2="2063.4" stroke="#222" stroke-width="1.6"/>
<text transform="translate(1001.7,2063.4) rotate(-90)" x="0" y="0" font-size="19.5" font-family="'Liberation Sans', Arial, sans-serif" fill="#333" text-anchor="middle">1</text>
<line x1="1015" y1="1929.1" x2="1028.3" y2="1929.1" stroke="#222" stroke-width="1.6"/>
<text transform="translate(1001.7,1929.1) rotate(-90)" x="0" y="0" font-size="19.5" font-family="'Liberation Sans', Arial, sans-serif" fill="#333" text-anchor="middle">2</text>
<line x1="1015" y1="1794.8" x2="1028.3" y2="1794.8" stroke="#222" stroke-width="1.6"/>
<text transform="translate(1001.7,1794.8) rotate(-90)" x="0" y="0" font-size="19.5" font-family="'Liberation Sans', Arial, sans-serif" fill="#333" text-anchor="middle">3</text>
<line x1="1015" y1="1660.5" x2="1028.3" y2="1660.5" stroke="#222" stroke-width="1.6"/>
<text transform="translate(1001.7,1660.5) rotate(-90)" x="0" y="0" font-size="19.5" font-family="'Liberation Sans', Arial, sans-serif" fill="#333" text-anchor="middle">4</text>
<line x1="1051.4" y1="2165.8" x2="1634" y2="2165.8" stroke="#222" stroke-width="1.6"/>
<line x1="1051.4" y1="2165.8" x2="1051.4" y2="2177.7" stroke="#222" stroke-width="1.6"/>
<text x="1051.4" y="2209.5" font-size="18.8" font-family="'Liberation Sans', Arial, sans-serif" fill="#333" text-anchor="middle">0.0</text>
<line x1="1197.05" y1="2165.8" x2="1197.05" y2="2177.7" stroke="#222" stroke-width="1.6"/>
<text x="1197.05" y="2209.5" font-size="18.8" font-family="'Liberation Sans', Arial, sans-serif" fill="#333" text-anchor="middle">0.1</text>
<line x1="1342.7" y1="2165.8" x2="1342.7" y2="2177.7" stroke="#222" stroke-width="1.6"/>
<text x="1342.7" y="2209.5" font-size="18.8" font-family="'Liberation Sans', Arial, sans-serif" fill="#333" text-anchor="middle">0.2</text>
<line x1="1488.35" y1="2165.8" x2="1488.35" y2="2177.7" stroke="#222" stroke-width="1.6"/>
<text x="1488.35" y="2209.5" font-size="18.8" font-family="'Liberation Sans', Arial, sans-serif" fill="#333" text-anchor="middle">0.3</text>
<line x1="1634" y1="2165.8" x2="1634" y2="2177.7" stroke="#222" stroke-width="1.6"/>
<text x="1634" y="2209.5" font-size="18.8" font-family="'Liberation Sans', Arial, sans-serif" fill="#333" text-anchor="middle">0.4</text>
<text x="1343.1" y="2256.3" font-size="18.5" font-family="'Liberation Sans', Arial, sans-serif" fill="#333" text-anchor="middle" textLength="143.4" lengthAdjust="spacingAndGlyphs">Pathway Impact</text>
<text transform="translate(955.5,1851) rotate(-90)" x="0" y="0" font-size="20" font-family="'Liberation Sans', Arial, sans-serif" fill="#333" text-anchor="middle">-log10(p)</text>
<circle cx="1078.5" cy="2141.6" r="9.6" fill="#fffde4" stroke="#4a1a0a" stroke-width="1.5"/>
<circle cx="1051.1" cy="2129.5" r="6.2" fill="#9d9c3a" stroke="#4a1a0a" stroke-width="1.5"/>
<circle cx="1051.1" cy="2133" r="6.2" fill="#c9c76c" stroke="#4a1a0a" stroke-width="1.5"/>
<circle cx="1055" cy="2138" r="7.3" fill="#fff9c4" stroke="#4a1a0a" stroke-width="1.5"/>
<circle cx="1055.4" cy="2113.6" r="7.3" fill="#ffe600" stroke="#4a1a0a" stroke-width="1.5"/>
<circle cx="1051.1" cy="2093.8" r="6.2" fill="#e8962a" stroke="#4a1a0a" stroke-width="1.5"/>
<circle cx="1051.1" cy="2098.3" r="6.2" fill="#f7a92c" stroke="#4a1a0a" stroke-width="1.5"/>
<circle cx="1051.1" cy="2070.9" r="6.2" fill="#f79020" stroke="#4a1a0a" stroke-width="1.5"/>
<circle cx="1230" cy="2101.9" r="16" fill="#ffcc1a" stroke="#4a1a0a" stroke-width="1.5"/>
<circle cx="1226.4" cy="2110.9" r="15.5" fill="#ffe012" stroke="#4a1a0a" stroke-width="1.5"/>
<circle cx="1634" cy="2064.5" r="23.7" fill="#ff8000" stroke="#4a1a0a" stroke-width="1.5"/>
<circle cx="1180.4" cy="2059.1" r="14.3" fill="#fb6a0c" stroke="#4a1a0a" stroke-width="1.5"/>
<circle cx="1116.9" cy="2051.4" r="11.7" fill="#f75b0a" stroke="#4a1a0a" stroke-width="1.5"/>
<circle cx="1190.7" cy="2016.6" r="14.6" fill="#f34a0e" stroke="#4a1a0a" stroke-width="1.5"/>
<circle cx="1140.4" cy="2003.6" r="12.6" fill="#f0400c" stroke="#4a1a0a" stroke-width="1.5"/>
<circle cx="1051.1" cy="1963.9" r="6.3" fill="#ea2a10" stroke="#4a1a0a" stroke-width="1.5"/>
<circle cx="1293.1" cy="1920.2" r="17.2" fill="#ee1010" stroke="#4a1a0a" stroke-width="1.5"/>
<circle cx="1367.2" cy="1560.1" r="19.2" fill="#ee0000" stroke="#4a1a0a" stroke-width="1.5"/>
<text x="1398.3" y="1563.6" font-size="25.7" font-family="'Liberation Serif', 'Times New Roman', serif" fill="#000" textLength="193.2" lengthAdjust="spacingAndGlyphs">Purine metabolism</text>
<text x="1326.1" y="1714.1" font-size="25.7" font-family="'Liberation Serif', 'Times New Roman', serif" fill="#000" textLength="364.2" lengthAdjust="spacingAndGlyphs">a. Arginine and proline metabolism</text>
<text x="1326.1" y="1744.7" font-size="25.7" font-family="'Liberation Serif', 'Times New Roman', serif" fill="#000" textLength="266.3" lengthAdjust="spacingAndGlyphs">b. Pyrimidine metabolism</text>
<text x="1326.1" y="1775.1" font-size="25.7" font-family="'Liberation Serif', 'Times New Roman', serif" fill="#000" textLength="399.7" lengthAdjust="spacingAndGlyphs">c. Taurine and hypotaurine metabolism</text>
<text x="1267.5" y="1883.1" font-size="25.7" font-family="'Liberation Serif', 'Times New Roman', serif" fill="#000" textLength="383.1" lengthAdjust="spacingAndGlyphs">Cysteine and methionine metabolism</text>
<text x="1045.1" y="1904.4" font-size="25.7" font-family="'Liberation Serif', 'Times New Roman', serif" fill="#000" textLength="129.5" lengthAdjust="spacingAndGlyphs">Glycerolipid</text>
<text x="1045.1" y="1935" font-size="25.7" font-family="'Liberation Serif', 'Times New Roman', serif" fill="#000">metabolism</text>
<text x="1147" y="1977.4" font-size="25.7" font-family="'Liberation Serif', 'Times New Roman', serif" fill="#000" textLength="284.4" lengthAdjust="spacingAndGlyphs">Pentose phosphate pathway</text>
<text x="1214.7" y="2020.2" font-size="25.7" font-family="'Liberation Serif', 'Times New Roman', serif" fill="#000" textLength="305.8" lengthAdjust="spacingAndGlyphs">Glycolysis / Gluconeogenesis</text>
<text x="1131.3" y="2040.6" font-size="25.7" font-family="'Liberation Serif', 'Times New Roman', serif" fill="#000">a</text>
<text x="1199.4" y="2060.3" font-size="25.7" font-family="'Liberation Serif', 'Times New Roman', serif" fill="#000">b</text>
<text x="1633.5" y="2026.7" font-size="25.7" font-family="'Liberation Serif', 'Times New Roman', serif" fill="#000" text-anchor="middle">c</text>
</svg>
</body></html>
